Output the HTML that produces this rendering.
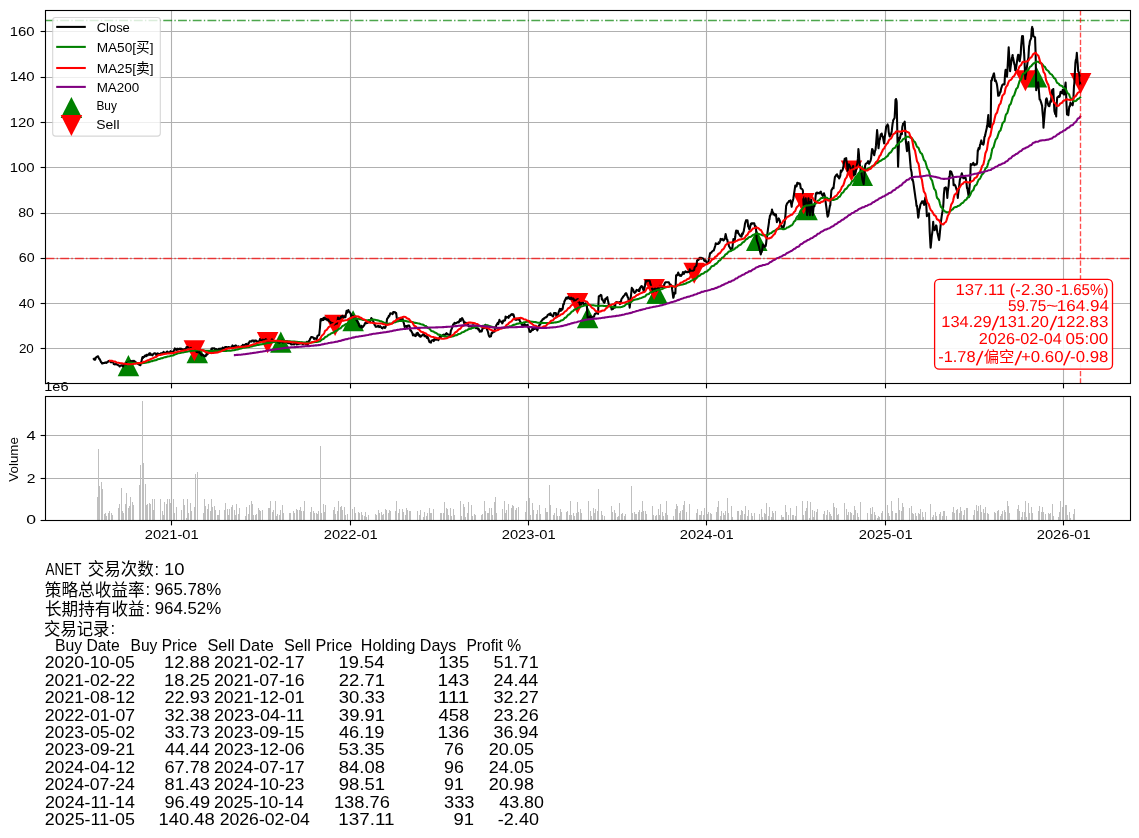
<!DOCTYPE html>
<html lang="zh"><head><meta charset="utf-8"><title>ANET MA strategy</title>
<style>html,body{margin:0;padding:0;background:#fff}svg{display:block}</style></head>
<body>
<svg width="1139" height="838" viewBox="0 0 1139 838" font-family='"Liberation Sans", "Noto Sans CJK SC", sans-serif'>
<rect width="1139" height="838" fill="#fff"/>
<g id="main">
<line x1="171.50" x2="171.50" y1="10.5" y2="383.5" stroke="#b0b0b0" stroke-width="1.11"/>
<line x1="350.50" x2="350.50" y1="10.5" y2="383.5" stroke="#b0b0b0" stroke-width="1.11"/>
<line x1="528.50" x2="528.50" y1="10.5" y2="383.5" stroke="#b0b0b0" stroke-width="1.11"/>
<line x1="706.50" x2="706.50" y1="10.5" y2="383.5" stroke="#b0b0b0" stroke-width="1.11"/>
<line x1="885.50" x2="885.50" y1="10.5" y2="383.5" stroke="#b0b0b0" stroke-width="1.11"/>
<line x1="1063.50" x2="1063.50" y1="10.5" y2="383.5" stroke="#b0b0b0" stroke-width="1.11"/>
<line x1="45.5" x2="1130.5" y1="348.50" y2="348.50" stroke="#b0b0b0" stroke-width="1.11"/>
<line x1="45.5" x2="1130.5" y1="303.50" y2="303.50" stroke="#b0b0b0" stroke-width="1.11"/>
<line x1="45.5" x2="1130.5" y1="258.50" y2="258.50" stroke="#b0b0b0" stroke-width="1.11"/>
<line x1="45.5" x2="1130.5" y1="213.50" y2="213.50" stroke="#b0b0b0" stroke-width="1.11"/>
<line x1="45.5" x2="1130.5" y1="167.50" y2="167.50" stroke="#b0b0b0" stroke-width="1.11"/>
<line x1="45.5" x2="1130.5" y1="122.50" y2="122.50" stroke="#b0b0b0" stroke-width="1.11"/>
<line x1="45.5" x2="1130.5" y1="77.50" y2="77.50" stroke="#b0b0b0" stroke-width="1.11"/>
<line x1="45.5" x2="1130.5" y1="31.50" y2="31.50" stroke="#b0b0b0" stroke-width="1.11"/>
<clipPath id="cm"><rect x="45.5" y="10.5" width="1085.0" height="373.0"/></clipPath>
<g clip-path="url(#cm)">
<polygon points="128.4,355.1 117.7,376.2 139.2,376.2" fill="#008000"/>
<polygon points="197.3,342.2 186.5,363.3 208.0,363.3" fill="#008000"/>
<polygon points="280.8,331.6 270.1,352.7 291.6,352.7" fill="#008000"/>
<polygon points="353.1,310.2 342.4,331.3 363.9,331.3" fill="#008000"/>
<polygon points="587.7,307.1 576.9,328.2 598.4,328.2" fill="#008000"/>
<polygon points="657.0,282.9 646.3,304.0 667.8,304.0" fill="#008000"/>
<polygon points="756.7,230.0 746.0,251.1 767.5,251.1" fill="#008000"/>
<polygon points="807.0,199.1 796.3,220.2 817.8,220.2" fill="#008000"/>
<polygon points="862.2,165.0 851.5,186.1 873.0,186.1" fill="#008000"/>
<polygon points="1036.4,66.4 1025.7,87.5 1047.2,87.5" fill="#008000"/>
<polygon points="194.4,361.3 183.6,340.2 205.1,340.2" fill="#ff0000"/>
<polygon points="267.6,353.2 256.9,332.1 278.4,332.1" fill="#ff0000"/>
<polygon points="335.1,335.9 324.3,314.8 345.8,314.8" fill="#ff0000"/>
<polygon points="577.4,314.2 566.7,293.1 588.2,293.1" fill="#ff0000"/>
<polygon points="654.1,300.0 643.4,278.9 664.9,278.9" fill="#ff0000"/>
<polygon points="694.2,283.8 683.4,262.7 704.9,262.7" fill="#ff0000"/>
<polygon points="803.6,214.2 792.9,193.1 814.4,193.1" fill="#ff0000"/>
<polygon points="851.5,181.5 840.7,160.4 862.2,160.4" fill="#ff0000"/>
<polygon points="1025.4,91.3 1014.7,70.2 1036.2,70.2" fill="#ff0000"/>
<polygon points="1080.6,94.1 1069.9,73.0 1091.4,73.0" fill="#ff0000"/>
<polyline points="93.8,359.0 94.2,358.7 94.7,359.8 95.2,359.8 95.7,358.0 96.0,357.5 96.2,357.4 97.7,356.2 98.0,356.3 98.1,356.6 98.6,357.5 99.1,358.8 99.5,359.0 99.6,358.9 101.1,362.2 101.6,362.4 102.1,363.5 102.5,363.5 102.5,363.5 103.0,363.1 104.5,363.0 105.0,362.7 105.0,362.5 105.5,362.7 106.0,362.3 106.4,362.9 107.9,361.7 108.0,361.8 108.4,361.0 108.9,361.4 109.4,361.1 109.9,361.0 111.0,362.5 111.3,361.7 111.8,361.7 112.3,361.7 112.8,361.7 113.3,362.7 113.7,363.9 115.2,364.4 115.7,364.2 116.2,363.7 116.7,364.6 118.0,365.0 118.2,365.2 118.7,365.2 119.2,365.8 119.6,366.5 120.1,365.9 121.6,365.3 122.0,365.7 122.1,365.7 122.6,365.8 123.1,366.5 123.5,364.6 125.0,363.8 125.5,363.7 126.0,364.1 126.0,364.5 126.5,363.1 127.0,363.6 128.4,361.8 128.9,363.2 129.4,363.3 129.9,362.9 130.4,361.6 130.6,361.0 131.9,362.3 132.3,360.9 132.8,361.6 133.0,361.5 133.3,362.0 133.8,360.7 135.3,361.9 135.8,362.2 136.0,362.5 136.3,362.9 136.7,362.8 137.2,363.2 138.7,364.4 139.2,363.7 139.7,365.0 140.2,365.1 140.4,365.2 140.6,364.5 141.5,361.0 142.1,358.4 142.5,357.0 142.6,357.1 143.1,357.8 143.6,356.8 144.1,357.0 145.0,355.5 145.5,356.3 146.0,356.3 146.5,354.8 147.0,355.6 147.5,355.5 148.8,354.0 149.0,354.1 149.4,353.3 149.9,355.0 150.4,353.4 150.9,354.4 152.4,355.3 152.9,354.3 153.0,354.5 153.4,354.0 154.3,353.2 155.8,353.5 156.3,355.3 156.8,355.3 157.3,353.8 157.7,353.3 158.7,354.0 159.2,354.1 159.7,354.8 160.2,354.8 160.7,353.4 161.2,353.6 162.0,353.0 162.6,353.1 163.1,352.7 163.6,351.9 164.1,352.7 164.3,352.7 164.6,352.8 166.1,352.6 166.5,352.3 167.0,351.5 167.5,351.5 168.0,352.3 169.5,352.7 170.0,352.2 170.5,351.2 170.9,352.4 171.3,352.0 172.9,351.7 173.4,352.8 173.9,350.4 174.0,350.0 174.4,350.1 174.9,348.4 176.3,349.8 176.8,350.0 177.0,348.9 177.3,349.3 177.8,348.7 178.3,349.5 180.2,348.5 180.7,348.9 181.0,349.2 181.2,348.9 181.7,348.9 183.2,350.0 183.6,349.4 184.1,350.0 184.6,349.0 185.1,349.1 186.0,348.5 186.6,347.0 187.1,347.0 187.6,347.7 188.0,347.2 188.5,348.2 190.0,348.6 190.5,349.3 191.0,348.1 191.0,347.8 191.5,349.7 192.0,349.4 193.9,349.4 194.0,349.5 194.4,349.3 194.9,349.3 195.4,349.1 196.6,352.0 196.8,351.5 197.3,351.4 197.8,352.3 198.3,352.3 198.8,351.2 200.0,353.5 200.3,353.1 200.7,353.4 201.2,355.0 201.7,355.5 202.2,354.6 203.6,355.5 203.7,355.3 204.2,356.3 204.7,356.3 205.1,356.3 205.6,356.3 206.4,354.1 207.1,354.6 207.6,354.0 208.1,353.5 208.6,352.8 209.0,351.5 209.1,351.6 210.5,351.2 211.0,350.6 211.5,348.6 212.0,349.1 212.0,349.2 212.5,348.2 213.9,348.5 214.4,348.3 214.9,349.3 215.4,350.0 216.0,349.0 217.4,349.8 217.8,349.8 218.3,349.5 218.8,348.8 219.3,348.7 220.5,348.9 220.8,348.5 221.3,348.8 221.8,348.7 222.2,349.3 222.7,347.5 224.2,348.7 224.7,347.6 225.2,347.0 225.7,347.3 226.2,347.0 227.5,347.8 227.6,347.8 228.1,347.1 228.6,347.0 229.1,347.0 229.6,348.2 230.0,347.9 231.0,348.0 231.5,346.5 232.0,346.9 232.5,345.4 233.0,348.1 234.5,345.8 234.9,346.8 235.4,347.3 235.9,345.4 236.4,346.2 237.9,347.1 238.4,346.4 238.4,346.2 238.9,346.7 239.3,347.0 239.8,346.9 241.3,346.5 241.8,345.9 242.3,346.3 242.8,344.8 243.3,345.8 245.2,344.7 245.5,344.8 245.7,344.2 246.2,343.9 246.7,345.5 248.1,344.6 248.6,342.7 249.1,342.8 249.6,341.4 249.7,341.3 250.1,341.3 251.6,341.6 252.0,340.5 252.5,340.5 253.0,340.5 253.5,340.5 254.0,341.8 255.0,340.5 255.5,340.5 256.0,340.5 256.4,340.9 256.9,342.6 258.0,341.3 258.4,341.7 258.9,342.1 259.4,341.6 259.9,339.1 260.4,339.9 262.3,340.3 262.8,339.7 263.3,340.1 263.7,339.9 263.8,340.0 265.2,340.0 265.7,339.1 266.2,339.6 266.7,340.2 267.2,340.9 267.5,341.5 268.7,341.5 269.1,342.3 269.6,341.3 270.1,341.5 270.6,341.7 272.0,339.4 272.1,339.7 272.6,341.6 273.1,340.5 273.5,341.1 274.0,341.8 275.5,341.8 276.0,341.4 276.5,341.7 277.0,341.3 277.0,341.0 277.5,342.2 278.9,341.5 279.4,342.8 279.9,341.1 280.4,341.9 280.9,341.8 282.3,340.6 282.8,342.6 283.3,342.1 283.4,342.0 283.8,341.5 284.3,342.3 285.8,342.0 286.2,341.2 286.7,341.2 287.2,341.8 287.7,342.9 289.2,343.2 289.7,343.2 290.2,343.3 290.4,343.1 290.6,343.2 291.1,344.5 293.1,344.2 293.6,344.2 294.1,344.5 294.6,342.9 296.0,342.5 296.5,344.5 297.0,344.3 297.4,343.7 297.5,343.7 298.0,344.1 299.4,343.3 299.9,343.7 300.4,342.9 300.9,343.5 301.0,343.5 301.4,342.7 302.9,344.4 303.3,343.7 303.8,342.7 304.3,342.9 304.8,343.2 305.9,344.5 306.3,343.7 306.8,341.8 307.3,342.3 307.7,345.3 308.2,342.0 309.7,340.1 310.2,338.7 310.7,338.0 310.8,337.8 311.2,337.0 311.7,337.0 313.1,337.5 313.6,337.9 314.1,339.0 314.3,338.5 314.6,338.3 315.1,338.2 316.5,339.3 317.0,337.6 317.5,335.7 318.0,335.6 318.5,335.3 319.2,335.0 320.0,327.5 320.4,321.4 320.6,319.5 320.9,319.0 321.4,319.1 321.9,320.3 322.7,318.5 323.4,320.0 323.9,317.7 324.4,317.9 324.8,317.7 325.3,319.1 325.5,319.2 326.8,319.1 327.3,320.3 327.8,320.3 328.3,319.8 328.3,319.5 328.8,321.0 330.2,321.9 330.7,322.3 331.2,323.8 332.2,323.7 332.5,323.0 333.6,323.7 334.1,324.5 334.6,324.5 335.1,324.0 335.6,322.9 336.8,323.7 337.1,322.8 337.5,321.2 338.0,317.6 338.5,319.8 339.0,320.1 340.5,317.4 341.0,316.9 341.0,316.7 341.5,317.4 341.9,317.3 342.4,315.7 342.5,316.0 343.9,317.1 344.0,317.5 344.4,316.4 344.9,317.1 345.4,317.2 346.6,310.8 347.3,312.6 347.8,311.8 348.3,310.0 348.8,311.0 349.4,311.8 350.7,313.8 351.2,316.0 351.7,316.2 352.2,316.7 352.2,316.8 352.7,315.9 354.2,317.7 354.6,317.6 355.1,318.7 355.6,319.5 356.1,319.4 356.4,319.5 358.1,323.0 358.6,323.7 359.0,325.4 359.5,326.4 360.6,327.2 361.0,326.9 361.5,325.8 362.0,327.7 362.5,326.4 363.0,326.8 364.4,324.9 364.8,323.7 364.9,323.7 365.4,322.6 365.9,323.0 366.4,323.2 367.8,322.8 368.0,322.5 368.3,321.6 368.8,320.4 369.3,320.4 369.8,322.2 371.3,318.0 371.7,318.8 371.9,318.8 372.2,319.0 372.7,320.6 373.2,321.2 374.7,325.1 375.2,325.3 375.7,326.8 376.1,326.8 376.6,326.8 378.0,326.0 378.1,326.2 378.6,326.1 379.1,327.1 379.6,326.8 380.1,326.1 381.5,327.6 381.7,327.9 382.0,327.5 382.5,328.3 383.0,327.8 383.5,327.0 384.5,327.2 384.9,327.8 385.4,327.5 385.8,326.0 385.9,325.8 386.4,324.7 386.9,320.0 387.0,319.2 388.4,317.1 388.8,315.9 389.3,316.2 389.8,314.7 389.8,314.8 390.3,313.4 391.8,313.5 392.3,313.4 392.5,314.2 392.8,313.7 393.2,312.0 393.7,312.0 395.2,312.3 395.5,312.8 395.7,313.3 396.2,313.1 396.7,317.4 396.9,318.5 397.2,319.5 398.6,318.3 399.1,319.8 399.6,319.1 400.0,319.0 400.1,319.0 402.0,319.6 402.5,318.3 403.0,320.6 403.2,320.6 403.5,322.4 404.0,323.7 404.6,326.9 405.5,326.5 405.9,326.1 406.4,326.1 406.9,327.2 407.0,327.2 407.4,325.8 408.9,325.4 409.4,326.1 409.5,326.2 409.9,327.6 410.3,330.4 410.8,330.2 412.3,333.0 412.8,334.8 413.0,335.3 413.3,335.0 413.8,334.3 414.3,335.5 415.7,336.1 416.2,334.2 416.5,333.2 416.7,333.6 417.2,334.9 417.7,332.8 419.1,335.6 419.3,336.0 419.6,334.9 420.1,336.8 420.6,336.8 421.1,336.2 423.0,334.4 423.5,333.9 423.5,333.5 424.0,333.8 424.5,336.2 426.0,335.9 426.5,337.1 427.0,337.9 427.4,336.5 427.8,337.4 427.9,337.7 429.4,341.9 429.9,342.3 430.4,342.1 430.6,342.3 430.9,342.7 431.4,340.8 433.3,340.0 433.8,341.1 434.3,339.1 434.8,339.6 434.8,339.5 436.2,339.7 436.7,338.7 437.2,338.7 437.7,338.7 438.2,340.1 438.3,340.2 440.1,336.3 440.6,337.6 441.1,336.1 441.6,336.2 441.8,336.0 443.1,334.9 443.6,334.6 444.1,336.1 444.5,335.7 445.0,334.8 446.5,333.1 447.0,334.4 447.4,333.9 447.5,334.1 448.0,334.4 448.5,334.8 449.9,334.7 450.2,335.3 450.4,333.8 450.9,330.3 451.4,329.7 451.6,329.0 451.9,328.4 453.3,324.2 453.8,324.3 454.3,323.1 454.4,322.7 454.8,323.2 455.3,323.5 456.8,322.8 457.2,322.3 457.7,322.3 458.0,322.0 458.2,321.9 458.7,322.5 460.2,319.2 460.7,320.9 461.2,319.1 461.5,318.9 461.6,319.0 462.1,318.1 463.6,320.9 464.1,323.1 464.6,323.5 465.0,322.7 465.1,323.1 465.6,322.6 467.0,323.4 467.5,324.0 468.0,324.2 468.5,326.2 468.5,326.2 469.0,326.5 470.9,326.3 471.4,326.7 471.9,325.9 472.0,326.0 472.4,325.2 473.9,325.2 474.3,326.2 474.8,326.9 475.3,327.1 475.5,326.9 475.8,328.1 477.3,328.3 477.8,328.5 478.3,329.7 478.7,328.9 479.2,330.0 479.7,331.8 480.7,330.9 481.2,331.5 481.7,331.5 482.2,329.5 482.5,328.5 482.7,328.4 484.1,327.9 484.6,326.2 485.1,325.5 485.4,324.8 485.6,325.9 486.1,327.3 487.5,330.5 488.0,332.0 488.5,334.2 489.0,335.9 489.5,336.5 489.6,336.7 491.0,336.3 491.4,333.6 491.9,332.7 492.4,333.1 492.9,331.9 494.4,331.5 494.5,331.8 494.9,329.3 495.4,327.2 495.8,326.9 496.3,325.3 497.8,322.9 498.3,324.1 498.8,322.1 499.3,320.6 499.4,319.9 499.8,321.2 501.2,321.6 501.7,322.3 502.2,323.2 502.2,323.4 502.7,322.7 503.2,320.6 504.6,320.6 505.1,320.2 505.6,316.5 506.1,317.5 506.4,317.1 506.6,317.7 508.1,316.8 508.6,317.9 509.0,315.7 509.5,316.5 510.0,315.8 511.5,314.2 512.0,314.7 512.5,314.2 512.7,315.0 512.9,314.2 513.4,314.4 514.8,319.2 514.9,319.5 515.4,319.3 515.9,320.0 516.4,319.7 516.9,318.9 518.3,319.4 518.8,319.7 519.1,318.5 519.3,318.9 519.8,320.6 520.3,321.9 521.7,324.1 521.9,324.8 522.2,325.4 522.7,325.6 523.2,324.9 523.7,325.6 524.5,324.0 525.7,325.6 526.1,325.0 526.6,325.6 527.1,325.6 527.5,324.8 529.1,329.5 529.6,331.8 530.0,331.7 530.3,331.1 530.5,331.9 532.0,330.0 532.5,328.2 533.0,330.0 533.5,328.6 534.0,329.0 534.5,329.0 535.9,328.3 536.4,329.0 536.9,328.8 537.3,330.4 537.4,330.3 538.8,325.9 539.3,325.1 539.8,324.4 539.8,324.3 540.3,324.5 540.8,321.8 542.3,319.8 542.8,319.1 543.2,318.9 543.3,318.8 543.7,319.1 544.2,318.1 545.7,317.6 546.2,316.8 546.7,317.0 546.9,316.7 547.1,316.5 547.6,315.2 549.1,314.1 549.6,314.2 550.1,315.0 550.4,313.2 550.6,313.6 551.1,314.8 553.0,316.5 553.2,316.0 553.5,315.2 554.0,313.1 554.5,313.1 555.9,313.1 556.4,316.6 556.9,316.0 557.4,316.5 557.9,314.3 558.1,313.9 559.4,310.2 559.9,308.9 560.3,310.6 560.8,310.8 561.3,308.9 562.3,309.7 562.8,308.1 563.3,304.1 563.8,304.3 564.2,302.4 564.4,301.3 564.7,301.0 566.2,297.7 566.7,298.7 567.2,297.6 567.2,297.8 567.7,298.3 568.2,297.0 569.6,298.8 570.1,298.9 570.6,298.4 571.1,297.6 571.6,298.7 572.1,299.2 573.0,298.4 573.5,298.8 574.0,299.6 574.5,301.6 575.0,302.0 576.5,299.6 577.0,302.1 577.4,300.9 577.9,299.1 578.4,300.1 578.5,299.9 579.9,304.7 580.4,303.9 580.9,303.1 581.3,304.1 581.3,304.1 581.8,303.1 583.3,302.8 583.8,304.9 584.3,304.9 584.8,304.4 585.3,303.8 585.5,303.4 586.7,306.0 586.9,306.2 587.2,311.8 587.6,317.4 587.7,317.6 588.2,317.6 588.7,317.3 590.1,317.5 590.4,316.0 590.6,316.9 591.1,317.1 591.6,317.5 592.1,317.5 593.6,316.4 593.9,316.7 594.1,316.6 594.5,314.9 595.0,313.8 595.5,313.9 596.0,313.2 597.0,313.3 597.5,312.6 598.0,313.6 598.1,313.9 598.4,304.3 598.8,296.4 598.9,296.5 600.9,294.9 600.9,295.0 601.4,295.4 601.9,299.5 602.4,299.1 603.7,302.0 603.8,302.3 604.3,302.8 604.8,301.9 605.3,298.8 605.8,299.2 607.2,297.3 607.3,297.1 607.7,299.9 608.2,301.5 608.7,304.3 609.2,305.0 609.4,304.8 611.2,307.2 611.6,309.4 612.1,309.3 612.6,308.7 612.9,309.0 614.1,306.2 614.6,307.8 615.1,307.1 615.5,302.8 616.0,302.5 616.4,302.0 617.5,302.3 618.5,302.8 619.0,302.7 619.5,302.1 619.9,304.1 620.9,301.6 621.4,299.4 621.9,298.4 622.4,297.8 622.7,297.8 622.9,297.0 624.3,295.3 624.8,295.0 625.3,293.6 625.5,293.5 625.8,293.2 626.3,293.3 627.8,297.4 628.3,297.8 628.3,297.8 628.7,301.3 629.2,304.2 629.7,307.6 629.7,307.4 631.2,293.7 631.7,288.6 631.8,287.9 632.2,289.1 632.6,289.0 633.1,289.5 633.9,292.1 634.6,292.9 635.1,292.6 635.6,292.1 636.1,290.9 636.6,289.9 638.0,290.5 638.2,290.7 638.5,290.9 639.0,289.3 639.5,290.9 640.0,288.2 641.4,286.1 641.9,286.9 642.4,286.5 642.4,286.6 642.9,289.0 643.4,289.7 643.8,291.4 644.9,286.0 645.4,282.6 645.8,280.8 646.3,281.0 646.6,281.6 646.8,280.8 648.8,280.8 649.3,280.8 649.7,280.8 650.1,282.3 650.2,283.1 651.7,287.3 652.2,289.0 652.2,289.3 652.7,289.9 653.2,291.5 653.7,289.3 655.1,288.5 655.6,288.5 656.1,290.6 656.4,290.7 656.6,290.4 657.1,288.8 658.5,287.8 659.0,289.3 659.5,286.4 660.0,285.9 660.5,286.2 660.6,286.5 662.0,286.9 662.5,287.3 662.9,287.3 663.4,285.7 663.9,285.5 664.9,283.0 665.4,282.2 665.9,282.3 666.4,282.2 666.9,282.2 667.3,282.2 668.8,282.2 669.1,283.0 669.3,283.2 669.8,284.8 670.3,285.5 670.8,284.7 671.9,287.2 672.2,289.9 672.7,293.4 673.2,297.3 673.3,297.8 673.7,296.8 674.2,292.7 675.4,293.5 675.6,286.0 676.1,275.3 676.1,275.5 676.6,275.8 677.1,274.5 677.6,274.8 678.2,272.5 679.1,275.1 679.6,275.7 680.0,274.9 680.5,275.5 681.0,276.0 681.0,276.0 682.5,273.8 683.0,272.1 683.5,272.7 684.0,273.8 684.4,272.8 684.5,272.5 685.6,271.3 685.9,271.9 686.4,272.1 686.9,272.1 687.9,272.1 689.3,271.8 689.8,269.2 689.8,269.9 690.3,270.7 690.8,270.7 691.3,270.7 692.7,270.7 693.2,270.7 693.7,270.7 694.0,269.9 694.2,269.8 694.7,267.2 696.2,266.0 696.7,264.0 697.1,260.4 697.6,260.1 698.1,259.5 698.3,260.1 699.6,257.9 700.1,257.9 700.6,257.9 701.1,258.8 701.1,258.7 701.5,257.9 703.5,258.8 704.0,260.1 704.5,260.9 705.0,260.9 705.3,260.1 706.9,263.0 707.4,262.8 707.9,262.2 708.1,262.2 708.4,261.9 709.8,254.6 710.2,253.0 710.3,253.1 710.8,252.9 711.3,252.7 711.8,251.7 713.7,250.2 713.8,250.5 714.2,249.1 714.7,247.6 715.2,246.0 715.8,243.2 716.7,244.0 717.2,244.0 717.7,244.0 718.2,244.0 718.6,242.4 719.3,243.2 720.1,241.3 720.6,238.9 721.1,239.8 721.4,239.7 721.6,239.1 722.1,238.9 723.5,240.5 723.5,240.2 724.0,240.0 724.5,239.1 725.0,237.3 725.5,235.1 725.6,234.1 726.9,239.8 727.4,239.8 727.8,243.2 727.9,242.9 728.4,242.5 728.9,245.9 730.9,249.6 731.3,248.8 731.3,248.6 731.8,249.6 732.3,248.5 733.4,239.0 733.8,239.8 734.3,239.1 734.8,239.8 735.3,236.5 735.7,232.7 736.2,230.6 737.2,232.6 737.7,230.8 738.2,232.9 738.7,233.6 739.0,234.1 739.2,234.4 740.6,236.5 741.0,236.5 741.1,236.0 741.6,236.7 742.1,233.5 742.6,234.3 743.9,230.6 744.0,229.4 744.5,227.1 745.0,223.7 745.5,222.2 746.0,220.5 746.0,220.3 747.5,220.4 748.0,225.0 748.1,226.4 748.4,226.0 748.9,228.1 749.5,229.5 750.9,223.6 751.4,223.4 751.6,224.2 751.9,223.4 752.4,223.4 752.8,223.4 754.3,223.4 754.8,225.8 755.3,227.2 755.8,226.8 755.9,226.4 756.3,232.7 756.6,239.0 757.7,242.7 758.2,244.1 758.7,246.0 758.7,245.7 759.2,248.0 759.7,250.1 760.8,254.4 761.1,252.5 761.6,252.3 762.1,250.4 762.6,247.1 762.9,244.6 763.1,245.8 764.6,246.8 765.1,245.4 765.5,245.7 765.7,246.0 766.0,244.3 766.5,239.8 767.1,236.2 768.0,228.9 768.5,225.7 769.0,222.2 769.2,219.3 769.5,219.5 769.9,215.8 769.9,216.2 771.4,212.9 771.9,210.2 772.0,209.5 772.4,211.7 772.9,212.2 773.4,214.5 774.1,213.7 774.8,215.3 775.3,214.3 775.8,215.1 776.0,214.5 776.3,217.3 776.8,221.4 776.9,222.1 778.7,218.4 778.8,218.5 779.2,219.5 779.7,220.2 780.2,223.2 780.4,224.9 781.7,226.5 781.8,227.8 782.2,227.8 782.6,226.8 783.1,226.3 783.6,227.1 784.6,223.5 785.1,218.6 785.6,213.4 786.1,206.2 786.1,206.0 786.6,204.9 787.0,203.4 788.5,202.0 788.9,201.1 789.0,201.4 790.0,201.2 790.5,200.3 791.7,206.7 791.9,204.0 792.4,201.9 792.9,200.5 793.4,198.2 793.8,195.5 793.9,194.8 795.3,185.5 795.8,185.5 796.3,185.8 796.6,186.3 797.3,182.7 798.7,183.5 798.8,183.5 799.3,184.1 799.7,183.4 800.2,184.3 800.7,188.0 800.8,188.4 802.2,189.2 802.7,190.1 802.9,190.5 803.2,197.7 803.6,205.3 803.7,205.4 804.1,204.4 805.6,198.4 805.7,198.3 806.1,202.3 806.6,209.1 807.1,214.9 807.1,215.1 807.6,209.8 808.5,198.3 809.0,205.4 809.5,210.8 809.9,215.1 810.0,213.5 810.5,201.7 811.0,203.2 811.3,199.7 812.4,212.9 812.7,215.1 812.9,214.1 813.4,208.7 813.9,205.1 814.4,206.2 814.8,203.9 815.9,193.9 816.4,192.8 816.8,193.3 817.0,192.6 817.3,192.6 817.8,193.4 819.3,192.7 819.8,193.4 820.3,192.2 820.5,191.9 820.8,191.5 821.2,192.6 822.5,195.5 822.7,195.9 823.2,195.5 823.7,195.0 824.0,193.3 824.2,194.4 824.7,195.3 826.1,205.3 826.6,209.0 827.1,213.6 827.6,216.6 828.1,215.5 828.2,215.8 829.5,208.1 830.0,205.5 830.3,205.3 830.5,201.6 831.0,195.5 831.4,190.2 831.5,190.3 833.0,187.5 833.5,188.2 833.5,188.3 833.9,184.5 834.4,180.8 834.9,177.1 834.9,177.1 836.4,174.7 836.9,174.6 837.0,174.3 837.4,175.4 837.9,176.8 838.3,176.2 839.1,178.5 839.8,177.1 840.3,175.6 840.8,170.6 841.3,172.0 841.8,170.9 842.6,170.1 843.2,167.8 843.7,164.4 844.2,161.4 844.7,158.9 844.7,158.8 845.2,158.7 846.2,158.1 846.6,161.8 847.1,164.2 847.6,171.5 847.6,171.6 848.1,167.1 848.6,165.2 849.0,164.4 850.1,166.8 850.6,168.3 851.0,168.8 851.1,168.7 851.5,169.5 852.0,169.5 853.2,165.9 853.5,168.2 854.0,175.1 854.5,172.8 855.0,173.7 855.3,174.3 855.4,173.6 856.9,164.9 857.4,163.0 857.4,163.0 857.9,158.4 858.4,149.4 858.4,149.0 858.9,153.9 859.5,163.0 860.3,167.6 860.8,170.6 861.3,173.6 861.6,172.9 861.8,175.3 862.3,179.2 863.7,184.1 863.7,183.6 864.2,177.9 864.7,170.9 865.1,165.9 865.2,165.3 865.7,163.8 867.2,162.9 867.2,163.0 867.7,162.0 868.1,161.2 869.1,163.8 870.0,161.6 870.6,160.6 871.1,158.3 871.6,152.8 872.1,149.0 872.1,149.0 872.5,149.3 874.0,154.6 874.2,155.3 874.5,153.6 875.0,151.0 875.5,149.9 875.6,149.0 876.0,145.2 877.1,130.0 877.4,133.6 877.9,139.2 878.4,146.7 878.5,148.3 878.9,145.2 879.4,140.2 879.9,139.2 880.8,134.3 881.3,134.9 881.7,133.5 882.3,136.3 882.8,136.4 884.1,143.4 884.3,141.5 884.8,137.2 885.7,130.6 886.2,126.5 886.2,126.8 887.6,124.4 887.7,125.0 888.2,125.6 888.7,132.1 889.6,136.3 889.7,136.4 891.1,134.2 891.6,131.8 891.8,130.7 892.1,128.0 892.6,123.6 893.1,121.2 893.2,120.2 894.6,118.0 895.0,111.0 895.5,99.8 895.5,100.0 896.0,99.0 896.5,100.7 896.7,102.6 897.4,136.4 897.9,159.8 898.1,166.6 898.4,157.9 898.9,143.5 899.1,137.8 899.4,138.6 899.9,138.6 900.9,133.5 901.4,134.3 901.9,134.3 902.3,126.9 902.8,125.0 903.0,123.7 903.3,124.5 904.7,121.6 904.8,123.1 905.3,132.6 905.8,140.0 905.9,142.0 906.3,144.9 906.7,148.9 907.0,151.1 908.4,142.0 908.7,145.0 909.2,150.8 909.4,153.2 909.7,155.9 910.2,162.2 910.8,168.7 911.6,172.4 912.1,178.9 912.2,179.9 912.6,179.1 912.9,181.1 913.1,181.2 913.6,184.4 914.3,189.5 915.0,194.3 915.5,198.1 915.7,199.3 916.0,200.9 916.5,205.9 917.0,205.8 917.1,206.4 918.2,217.6 918.5,216.6 919.0,211.4 919.4,209.1 919.9,207.8 919.9,207.6 920.4,204.6 921.9,201.6 922.0,201.4 922.4,202.6 922.9,201.3 923.4,202.7 923.8,204.0 924.1,204.9 925.3,197.6 925.5,197.9 925.8,200.6 926.3,205.5 926.8,214.7 926.9,216.2 927.3,215.1 928.7,214.8 929.0,213.4 929.2,218.2 929.7,231.8 930.2,240.8 930.6,247.8 930.7,247.3 931.8,235.9 932.1,233.8 932.6,230.1 933.1,223.1 933.2,221.8 933.6,227.6 934.1,228.9 934.6,230.2 935.6,226.8 936.1,225.4 936.1,226.0 936.5,225.9 937.0,230.3 937.5,233.0 939.0,239.7 939.1,240.1 939.5,236.7 940.0,231.3 940.5,226.5 940.7,224.6 940.9,222.1 941.7,216.2 942.4,211.9 942.9,208.0 943.1,207.8 943.4,203.6 943.9,194.2 944.4,189.6 944.5,188.1 945.8,187.3 946.3,188.5 946.6,189.5 946.8,191.0 947.3,197.3 947.3,197.9 947.8,191.7 948.7,185.3 949.2,176.8 949.7,176.4 950.1,171.2 950.2,171.6 950.7,171.4 951.2,171.6 952.2,174.7 952.7,176.1 953.2,177.7 953.6,185.3 953.6,184.8 954.1,184.5 954.6,184.5 955.5,186.0 956.6,189.7 957.1,191.0 957.6,195.9 957.8,197.9 958.0,195.6 959.5,183.5 959.9,179.7 960.0,179.6 960.5,177.1 961.0,177.3 961.5,174.3 961.8,173.3 962.9,177.1 963.4,178.3 963.5,178.3 963.9,178.3 964.4,176.7 964.9,177.6 965.5,177.5 966.3,181.5 966.8,186.2 967.0,188.1 967.3,187.9 968.3,194.3 968.8,197.2 969.8,183.7 970.2,178.3 970.3,176.0 970.7,164.2 970.7,164.0 971.2,165.0 971.7,165.0 973.2,163.2 973.3,162.8 973.7,163.8 974.2,165.1 974.7,165.1 975.0,164.3 976.6,164.4 977.1,162.7 977.1,162.9 977.6,154.3 977.8,150.2 978.1,150.7 978.6,148.0 979.5,148.8 980.0,144.9 980.5,143.6 981.0,141.6 981.3,140.4 981.5,141.1 982.0,143.8 983.4,144.6 983.4,144.6 983.9,142.6 984.4,137.0 984.9,136.5 985.4,134.3 985.5,133.4 986.9,127.4 986.9,126.4 987.4,124.9 987.8,119.9 988.3,115.1 988.3,116.2 988.8,125.0 989.0,126.4 990.3,127.2 990.7,125.0 990.8,118.5 991.2,80.5 991.3,80.4 991.8,80.6 992.2,77.6 992.6,77.5 993.7,73.7 994.0,73.3 994.2,74.7 994.7,78.6 994.9,81.0 995.2,80.2 995.7,80.2 996.8,83.8 997.1,85.6 997.6,89.6 998.1,94.8 998.2,95.8 998.6,95.0 999.1,95.5 1000.3,91.6 1000.6,91.9 1001.0,89.0 1001.5,87.7 1002.0,85.8 1002.4,85.2 1002.5,84.7 1004.5,83.8 1004.5,84.5 1004.9,76.4 1005.4,71.0 1005.6,69.8 1005.9,72.9 1007.0,76.8 1007.4,70.9 1007.9,61.7 1008.4,52.6 1008.7,47.3 1008.9,51.0 1009.3,58.2 1010.1,71.2 1010.8,65.5 1011.2,62.8 1011.3,61.9 1011.8,58.1 1012.3,56.3 1012.6,55.0 1012.8,56.4 1014.2,63.5 1014.3,64.2 1014.7,65.0 1015.2,70.2 1015.7,69.8 1015.7,69.8 1016.2,67.0 1017.7,57.0 1018.1,54.9 1018.3,55.7 1018.6,54.9 1019.1,59.3 1019.6,60.8 1019.7,61.3 1020.7,54.3 1021.1,46.5 1021.6,41.2 1022.0,36.6 1022.1,36.1 1022.5,36.9 1023.0,36.1 1023.0,36.9 1024.2,54.3 1024.5,61.3 1025.0,72.5 1025.3,78.9 1025.5,76.7 1026.0,74.6 1026.4,70.6 1026.7,68.4 1027.7,61.3 1027.9,60.0 1028.4,57.6 1028.9,48.8 1029.1,45.9 1029.4,45.1 1029.9,41.2 1031.2,38.2 1031.3,35.4 1031.8,28.9 1032.2,26.9 1032.3,27.5 1032.8,28.9 1033.3,35.9 1033.3,36.1 1034.8,37.2 1035.1,37.5 1035.2,42.0 1035.7,55.7 1035.7,57.4 1036.2,90.2 1036.2,89.5 1036.7,87.5 1038.2,82.6 1038.2,82.4 1038.7,88.1 1039.1,93.2 1039.6,99.3 1039.6,99.2 1040.1,99.6 1041.0,102.1 1041.6,104.1 1042.1,105.9 1042.4,110.5 1042.6,112.8 1043.1,118.1 1043.5,127.8 1043.5,126.8 1044.5,115.1 1045.0,109.1 1045.5,106.4 1046.0,99.4 1046.6,98.3 1047.0,100.0 1048.3,105.3 1048.4,105.5 1048.9,106.1 1049.4,106.1 1049.9,103.6 1050.4,101.0 1050.9,101.8 1051.9,91.5 1052.3,89.8 1052.3,90.0 1052.8,90.6 1053.3,89.1 1053.3,89.5 1053.8,99.2 1054.4,110.9 1055.3,114.2 1055.8,112.7 1056.2,116.5 1056.2,115.1 1056.7,103.9 1057.2,97.6 1057.2,97.8 1058.7,96.1 1059.2,96.9 1059.3,96.2 1059.7,96.6 1060.6,91.8 1061.4,92.6 1062.1,93.4 1062.6,90.1 1062.8,89.8 1063.1,91.2 1064.1,94.6 1064.2,94.0 1065.5,83.3 1065.6,82.6 1066.0,90.8 1066.5,104.2 1067.0,114.4 1067.0,114.4 1067.5,113.6 1068.4,115.1 1069.0,108.7 1069.4,106.2 1069.9,106.4 1070.4,103.0 1070.5,102.5 1070.9,103.9 1072.6,105.3 1072.9,103.5 1073.3,100.0 1073.8,89.8 1074.0,86.0 1074.3,83.8 1075.4,62.8 1075.8,59.9 1076.3,58.9 1076.8,53.5 1076.8,52.9 1077.3,59.6 1077.7,63.8 1078.2,71.2 1079.2,73.1 1079.7,77.4 1080.1,83.2 1080.2,84.2" fill="none" stroke="#000000" stroke-width="2.08" stroke-linejoin="round" stroke-linecap="square" />
<polyline points="128.4,362.4 128.9,362.5 129.4,362.6 129.9,362.6 130.4,362.7 131.9,362.8 132.3,362.9 132.8,363.0 133.3,363.1 133.8,363.1 135.3,363.2 135.8,363.2 136.3,363.2 136.7,363.2 137.2,363.2 138.7,363.2 139.2,363.2 139.7,363.2 140.2,363.3 140.6,363.3 142.1,363.2 142.6,363.1 143.1,363.1 143.6,363.0 144.1,362.9 145.5,362.8 146.0,362.7 146.5,362.6 147.0,362.4 147.5,362.3 149.0,362.1 149.4,361.9 149.9,361.7 150.4,361.5 150.9,361.3 152.4,361.1 152.9,360.9 153.4,360.7 154.3,360.4 155.8,360.2 156.3,360.0 156.8,359.8 157.3,359.5 157.7,359.3 159.2,359.0 159.7,358.9 160.2,358.7 160.7,358.5 161.2,358.3 162.6,358.1 163.1,357.9 163.6,357.7 164.1,357.4 164.6,357.2 166.1,357.1 166.5,356.9 167.0,356.7 167.5,356.5 169.5,356.3 170.0,356.1 170.5,355.9 170.9,355.7 172.9,355.5 173.4,355.3 173.9,355.0 174.4,354.7 174.9,354.4 176.3,354.1 176.8,353.8 177.3,353.5 177.8,353.3 178.3,353.2 180.2,353.0 180.7,352.8 181.2,352.7 181.7,352.5 183.2,352.4 183.6,352.3 184.1,352.2 184.6,352.1 185.1,352.0 186.6,351.8 187.1,351.7 187.6,351.6 188.0,351.4 188.5,351.3 190.0,351.2 190.5,351.1 191.0,351.0 191.5,350.9 192.0,350.8 193.9,350.6 194.4,350.6 194.9,350.5 195.4,350.4 196.8,350.3 197.3,350.2 197.8,350.2 198.3,350.2 198.8,350.2 200.3,350.2 200.7,350.2 201.2,350.2 201.7,350.3 202.2,350.3 203.7,350.4 204.2,350.5 204.7,350.6 205.1,350.7 205.6,350.7 207.1,350.8 207.6,350.8 208.1,350.9 208.6,350.9 209.1,350.9 210.5,350.9 211.0,351.0 211.5,351.0 212.0,350.9 212.5,350.9 213.9,350.9 214.4,350.9 214.9,350.9 215.4,350.9 217.4,350.9 217.8,351.0 218.3,350.9 218.8,350.9 219.3,350.9 220.8,350.9 221.3,350.9 221.8,350.9 222.2,351.0 222.7,351.0 224.2,351.0 224.7,351.0 225.2,351.0 225.7,350.9 226.2,350.9 227.6,350.8 228.1,350.8 228.6,350.8 229.1,350.7 229.6,350.7 231.0,350.7 231.5,350.6 232.0,350.5 232.5,350.3 233.0,350.3 234.5,350.1 234.9,350.0 235.4,349.9 235.9,349.7 236.4,349.5 237.9,349.4 238.4,349.2 238.9,349.0 239.3,348.8 239.8,348.6 241.3,348.4 241.8,348.3 242.3,348.1 242.8,347.9 243.3,347.8 245.2,347.6 245.7,347.5 246.2,347.4 246.7,347.3 248.1,347.2 248.6,347.1 249.1,347.0 249.6,346.9 250.1,346.7 251.6,346.5 252.0,346.3 252.5,346.2 253.0,346.0 253.5,345.8 255.0,345.6 255.5,345.5 256.0,345.3 256.4,345.2 256.9,345.0 258.4,344.9 258.9,344.8 259.4,344.7 259.9,344.5 260.4,344.4 262.3,344.2 262.8,344.1 263.3,343.9 263.8,343.8 265.2,343.6 265.7,343.5 266.2,343.3 266.7,343.2 267.2,343.0 268.7,343.0 269.1,342.9 269.6,342.8 270.1,342.7 270.6,342.5 272.1,342.4 272.6,342.3 273.1,342.2 273.5,342.1 274.0,342.0 275.5,341.9 276.0,341.8 276.5,341.7 277.0,341.6 277.5,341.5 278.9,341.5 279.4,341.4 279.9,341.3 280.4,341.3 280.9,341.2 282.3,341.1 282.8,341.1 283.3,341.1 283.8,341.1 284.3,341.1 285.8,341.1 286.2,341.1 286.7,341.1 287.2,341.1 287.7,341.2 289.2,341.2 289.7,341.3 290.2,341.3 290.6,341.4 291.1,341.5 293.1,341.5 293.6,341.5 294.1,341.6 294.6,341.6 296.0,341.7 296.5,341.8 297.0,341.9 297.5,341.9 298.0,342.0 299.4,342.1 299.9,342.2 300.4,342.2 300.9,342.3 301.4,342.4 302.9,342.4 303.3,342.5 303.8,342.5 304.3,342.5 304.8,342.5 306.3,342.6 306.8,342.6 307.3,342.6 307.7,342.7 308.2,342.8 309.7,342.7 310.2,342.7 310.7,342.6 311.2,342.5 311.7,342.4 313.1,342.3 313.6,342.2 314.1,342.2 314.6,342.1 315.1,342.0 316.5,342.0 317.0,341.9 317.5,341.8 318.0,341.7 318.5,341.5 320.0,341.2 320.4,340.8 320.9,340.4 321.4,339.9 321.9,339.5 323.4,339.1 323.9,338.5 324.4,338.0 324.8,337.5 325.3,337.0 326.8,336.5 327.3,336.1 327.8,335.6 328.3,335.1 328.8,334.7 330.2,334.2 330.7,333.8 331.2,333.4 332.2,333.0 333.6,332.6 334.1,332.2 334.6,331.8 335.1,331.4 335.6,331.0 337.1,330.6 337.5,330.2 338.0,329.6 338.5,329.2 339.0,328.7 340.5,328.2 341.0,327.7 341.5,327.2 341.9,326.7 342.4,326.1 343.9,325.6 344.4,325.1 344.9,324.7 345.4,324.3 347.3,323.8 347.8,323.3 348.3,322.7 348.8,322.2 350.7,321.7 351.2,321.2 351.7,320.8 352.2,320.4 352.7,319.9 354.2,319.6 354.6,319.2 355.1,318.9 355.6,318.7 356.1,318.7 358.1,318.7 358.6,318.8 359.0,318.9 359.5,319.1 361.0,319.3 361.5,319.4 362.0,319.6 362.5,319.8 363.0,319.9 364.4,320.0 364.9,320.1 365.4,320.1 365.9,320.2 366.4,320.2 367.8,320.2 368.3,320.2 368.8,320.1 369.3,320.0 369.8,320.0 371.3,319.9 371.7,319.8 372.2,319.7 372.7,319.6 373.2,319.6 375.2,319.8 375.7,319.9 376.1,320.1 376.6,320.2 378.1,320.4 378.6,320.6 379.1,320.8 379.6,321.0 380.1,321.2 381.5,321.4 382.0,321.6 382.5,321.9 383.0,322.2 383.5,322.5 384.9,322.8 385.4,323.2 385.9,323.4 386.4,323.6 386.9,323.6 388.4,323.7 388.8,323.7 389.3,323.6 389.8,323.6 390.3,323.5 391.8,323.3 392.3,323.2 392.8,323.0 393.2,322.8 393.7,322.5 395.2,322.3 395.7,322.0 396.2,321.7 396.7,321.5 397.2,321.4 398.6,321.2 399.1,321.1 399.6,321.0 400.1,320.9 402.0,320.9 402.5,320.8 403.0,320.7 403.5,320.8 404.0,320.8 405.5,320.9 405.9,321.0 406.4,321.2 406.9,321.3 407.4,321.5 408.9,321.6 409.4,321.7 409.9,321.7 410.3,321.8 410.8,321.9 412.3,322.0 412.8,322.2 413.3,322.3 413.8,322.5 414.3,322.7 415.7,322.9 416.2,323.0 416.7,323.1 417.2,323.2 417.7,323.3 419.1,323.5 419.6,323.7 420.1,323.8 420.6,324.1 421.1,324.3 423.0,324.6 423.5,324.9 424.0,325.3 424.5,325.7 426.0,326.1 426.5,326.6 427.0,327.0 427.4,327.5 427.9,328.0 429.4,328.6 429.9,329.2 430.4,329.8 430.9,330.4 431.4,330.9 433.3,331.4 433.8,331.8 434.3,332.2 434.8,332.6 436.2,333.0 436.7,333.4 437.2,333.8 437.7,334.2 438.2,334.6 440.1,334.9 440.6,335.2 441.1,335.4 441.6,335.6 443.1,335.7 443.6,335.9 444.1,336.1 444.5,336.3 445.0,336.5 446.5,336.6 447.0,336.7 447.5,336.7 448.0,336.8 448.5,336.8 449.9,336.8 450.4,336.8 450.9,336.7 451.4,336.5 451.9,336.4 453.3,336.2 453.8,336.0 454.3,335.8 454.8,335.6 455.3,335.3 456.8,335.1 457.2,334.8 457.7,334.5 458.2,334.2 458.7,334.0 460.2,333.7 460.7,333.4 461.2,333.1 461.6,332.7 462.1,332.3 463.6,332.0 464.1,331.7 464.6,331.3 465.1,331.0 465.6,330.6 467.0,330.2 467.5,329.9 468.0,329.5 468.5,329.2 469.0,329.0 470.9,328.7 471.4,328.5 471.9,328.2 472.4,327.9 473.9,327.7 474.3,327.4 474.8,327.2 475.3,327.0 475.8,326.8 477.3,326.7 477.8,326.5 478.3,326.4 478.7,326.3 479.2,326.2 480.7,326.1 481.2,326.1 481.7,326.0 482.2,325.9 482.7,325.8 484.1,325.7 484.6,325.5 485.1,325.3 485.6,325.2 486.1,325.2 487.5,325.2 488.0,325.4 488.5,325.6 489.0,325.9 489.5,326.1 491.0,326.4 491.4,326.6 491.9,326.8 492.4,327.0 492.9,327.2 494.4,327.4 494.9,327.6 495.4,327.7 495.8,327.9 496.3,328.0 497.8,328.1 498.3,328.2 498.8,328.1 499.3,328.1 499.8,328.0 501.2,328.0 501.7,328.0 502.2,328.0 502.7,328.0 503.2,327.8 504.6,327.7 505.1,327.6 505.6,327.4 506.1,327.2 506.6,327.1 508.1,326.9 508.6,326.8 509.0,326.5 510.0,326.3 511.5,326.0 512.0,325.8 512.5,325.5 512.9,325.2 513.4,324.9 514.9,324.7 515.4,324.4 515.9,324.2 516.4,324.0 516.9,323.7 518.3,323.6 518.8,323.4 519.3,323.3 519.8,323.2 520.3,323.1 521.7,323.0 522.2,322.9 522.7,322.8 523.2,322.6 523.7,322.4 525.7,322.2 526.1,321.9 526.6,321.8 527.1,321.6 529.1,321.6 529.6,321.6 530.0,321.6 530.5,321.6 532.0,321.7 532.5,321.7 533.0,321.8 533.5,321.9 534.0,322.0 535.9,322.1 536.4,322.3 536.9,322.5 537.4,322.6 538.8,322.7 539.3,322.7 539.8,322.8 540.3,322.8 540.8,322.9 542.3,322.9 542.8,322.9 543.2,322.9 543.7,323.0 544.2,323.0 545.7,323.0 546.2,323.0 546.7,323.0 547.1,323.1 547.6,323.1 549.1,323.1 549.6,323.1 550.1,323.1 550.6,323.0 551.1,322.9 553.0,322.8 553.5,322.7 554.0,322.6 554.5,322.5 555.9,322.4 556.4,322.3 556.9,322.2 557.4,322.1 557.9,321.9 559.4,321.6 559.9,321.3 560.3,321.0 560.8,320.7 561.3,320.4 562.8,320.0 563.3,319.6 563.8,319.2 564.2,318.6 564.7,318.0 566.2,317.3 566.7,316.7 567.2,316.0 567.7,315.4 568.2,314.8 569.6,314.2 570.1,313.6 570.6,313.0 571.1,312.4 571.6,311.7 573.0,311.1 573.5,310.6 574.0,310.1 574.5,309.6 576.5,309.1 577.0,308.7 577.4,308.3 577.9,307.9 578.4,307.6 579.9,307.3 580.4,307.0 580.9,306.7 581.3,306.4 581.8,306.2 583.3,305.9 583.8,305.7 584.3,305.5 584.8,305.3 585.3,305.1 586.7,304.9 587.2,304.9 587.7,304.9 588.2,304.9 588.7,305.0 590.1,305.1 590.6,305.2 591.1,305.2 591.6,305.2 592.1,305.2 593.6,305.3 594.1,305.4 594.5,305.5 595.0,305.6 595.5,305.7 597.0,305.7 597.5,305.8 598.0,306.0 598.4,306.0 598.9,305.9 600.9,305.8 601.4,305.7 601.9,305.8 602.4,305.8 603.8,305.9 604.3,306.0 604.8,306.0 605.3,306.0 605.8,306.0 607.2,306.0 607.7,306.1 608.2,306.1 608.7,306.2 609.2,306.4 611.2,306.5 611.6,306.7 612.1,306.8 612.6,307.0 614.1,307.1 614.6,307.3 615.1,307.3 615.5,307.3 616.0,307.3 617.5,307.2 618.5,307.2 619.0,307.2 619.5,307.2 620.9,307.1 621.4,307.0 621.9,306.9 622.4,306.7 622.9,306.4 624.3,306.0 624.8,305.5 625.3,305.1 625.8,304.6 626.3,304.1 627.8,303.7 628.3,303.3 628.7,303.0 629.2,302.7 629.7,302.6 631.2,302.1 631.7,301.6 632.2,301.1 632.6,300.7 633.1,300.2 634.6,299.8 635.1,299.5 635.6,299.5 636.1,299.4 636.6,299.3 638.0,299.1 638.5,298.9 639.0,298.7 639.5,298.4 640.0,298.2 641.4,297.9 641.9,297.7 642.4,297.4 642.9,297.2 643.4,297.0 644.9,296.6 645.4,296.2 645.8,295.6 646.3,295.1 646.8,294.5 648.8,293.9 649.3,293.4 649.7,292.9 650.2,292.4 651.7,292.1 652.2,291.8 652.7,291.6 653.2,291.4 653.7,291.1 655.1,290.8 655.6,290.6 656.1,290.4 656.6,290.2 657.1,290.0 658.5,289.9 659.0,289.7 659.5,289.6 660.0,289.4 660.5,289.3 662.0,289.2 662.5,288.9 662.9,288.7 663.4,288.4 663.9,288.1 665.4,287.6 665.9,287.3 666.4,287.2 666.9,287.1 667.3,286.9 668.8,286.8 669.3,286.6 669.8,286.4 670.3,286.3 670.8,286.2 672.2,286.2 672.7,286.2 673.2,286.4 673.7,286.5 674.2,286.5 675.6,286.5 676.1,286.3 676.6,286.1 677.1,285.8 677.6,285.5 679.1,285.2 679.6,285.0 680.0,284.9 680.5,284.8 681.0,284.7 682.5,284.5 683.0,284.4 683.5,284.2 684.0,284.1 684.4,283.9 685.9,283.6 686.4,283.2 686.9,282.9 687.9,282.5 689.3,282.1 689.8,281.7 690.3,281.4 690.8,281.0 691.3,280.6 692.7,280.2 693.2,279.9 693.7,279.5 694.2,279.2 694.7,278.8 696.2,278.4 696.7,278.0 697.1,277.4 697.6,276.9 698.1,276.3 699.6,275.8 700.1,275.3 700.6,274.8 701.1,274.4 701.5,273.9 703.5,273.4 704.0,273.0 704.5,272.5 705.0,272.0 706.9,271.6 707.4,271.1 707.9,270.6 708.4,270.0 709.8,269.1 710.3,268.2 710.8,267.4 711.3,266.8 711.8,266.3 713.8,265.8 714.2,265.3 714.7,264.7 715.2,264.2 716.7,263.5 717.2,262.9 717.7,262.3 718.2,261.6 718.6,261.0 720.1,260.4 720.6,259.7 721.1,259.0 721.6,258.4 722.1,257.7 723.5,257.1 724.0,256.4 724.5,255.8 725.0,255.1 725.5,254.4 726.9,253.8 727.4,253.1 727.9,252.6 728.4,252.0 728.9,251.5 730.9,251.1 731.3,250.7 731.8,250.3 732.3,250.0 733.8,249.5 734.3,249.1 734.8,248.7 735.3,248.2 735.7,247.7 737.2,247.2 737.7,246.6 738.2,246.1 738.7,245.6 739.2,245.2 740.6,244.7 741.1,244.2 741.6,243.7 742.1,243.1 742.6,242.5 744.0,241.9 744.5,241.2 745.0,240.6 745.5,239.9 746.0,239.3 747.5,238.7 748.0,238.1 748.4,237.6 748.9,237.2 750.9,236.7 751.4,236.3 751.9,235.9 752.4,235.5 752.8,235.0 754.3,234.6 754.8,234.3 755.3,234.0 755.8,233.8 756.3,233.6 757.7,233.7 758.2,233.8 758.7,233.9 759.2,234.1 759.7,234.3 761.1,234.6 761.6,234.9 762.1,235.2 762.6,235.3 763.1,235.4 764.6,235.4 765.1,235.4 765.5,235.4 766.0,235.3 766.5,235.1 768.0,234.7 768.5,234.4 769.0,234.1 769.5,233.7 769.9,233.3 771.4,232.9 771.9,232.4 772.4,232.0 772.9,231.6 773.4,231.2 774.8,230.8 775.3,230.4 775.8,230.0 776.3,229.6 776.8,229.4 778.7,229.0 779.2,228.8 779.7,228.7 780.2,228.7 781.7,228.8 782.2,228.9 782.6,229.1 783.1,229.1 783.6,229.1 785.1,228.9 785.6,228.7 786.1,228.4 786.6,228.0 787.0,227.6 788.5,227.2 789.0,226.7 790.0,226.2 790.5,225.7 791.9,225.2 792.4,224.6 792.9,223.8 793.4,222.9 793.9,221.8 795.3,220.6 795.8,219.3 796.3,218.0 797.3,216.6 798.8,215.2 799.3,214.0 799.7,212.7 800.2,211.5 800.7,210.3 802.2,209.2 802.7,208.1 803.2,207.3 803.7,206.8 804.1,206.4 805.6,205.9 806.1,205.6 806.6,205.4 807.1,205.5 807.6,205.5 809.0,205.3 809.5,205.3 810.0,205.3 810.5,205.0 811.0,204.8 812.4,204.7 812.9,204.7 813.4,204.4 813.9,204.2 814.4,203.9 815.9,203.4 816.4,202.8 816.8,202.1 817.3,201.4 817.8,200.7 819.3,200.1 819.8,199.4 820.3,198.8 820.8,198.4 821.2,198.1 822.7,198.0 823.2,197.8 823.7,197.7 824.2,197.5 824.7,197.4 826.6,197.7 827.1,198.0 827.6,198.3 828.1,198.7 829.5,199.0 830.0,199.3 830.5,199.6 831.0,199.7 831.5,199.8 833.0,199.9 833.5,199.9 833.9,199.9 834.4,199.7 834.9,199.4 836.4,199.1 836.9,198.8 837.4,198.5 837.9,197.9 838.3,197.3 839.8,196.6 840.3,195.8 840.8,195.0 841.3,194.1 841.8,193.2 843.2,192.4 843.7,191.5 844.2,190.7 844.7,189.9 845.2,189.2 846.6,188.5 847.1,187.7 847.6,187.0 848.1,186.2 848.6,185.5 850.1,184.7 850.6,184.0 851.0,183.2 851.5,182.3 852.0,181.5 853.5,180.6 854.0,179.7 854.5,178.8 855.0,177.9 855.4,177.0 856.9,176.1 857.4,175.2 857.9,174.4 858.4,173.6 858.9,172.9 860.3,172.3 860.8,171.7 861.3,171.0 861.8,170.6 862.3,170.3 863.7,170.0 864.2,169.8 864.7,169.7 865.2,169.5 865.7,169.3 867.2,169.1 867.7,168.8 868.1,168.4 869.1,168.0 870.6,167.6 871.1,167.2 871.6,166.8 872.1,166.4 872.5,166.0 874.0,165.5 874.5,165.0 875.0,164.6 875.5,164.1 876.0,163.6 877.4,163.1 877.9,162.6 878.4,162.2 878.9,161.7 879.4,161.3 880.8,160.8 881.3,160.3 882.3,159.7 882.8,159.3 884.3,158.7 884.8,158.3 885.7,157.5 886.2,156.8 887.7,156.0 888.2,155.1 888.7,154.0 889.6,153.0 891.1,152.1 891.6,151.2 892.1,150.3 892.6,149.5 893.1,148.6 895.0,147.8 895.5,147.0 896.0,146.0 896.5,145.3 897.9,144.6 898.4,144.0 898.9,143.3 899.4,142.6 899.9,142.0 901.4,141.4 901.9,140.8 902.3,140.2 902.8,139.6 903.3,139.0 904.8,138.4 905.3,137.8 905.8,137.4 906.3,137.0 906.7,136.8 908.7,136.8 909.2,136.9 909.7,137.2 910.2,137.6 911.6,138.1 912.1,138.6 912.6,139.2 913.1,140.1 913.6,141.0 915.0,142.1 915.5,143.3 916.0,144.4 916.5,145.6 917.0,146.7 918.5,147.9 919.0,149.1 919.4,150.3 919.9,151.5 920.4,152.7 921.9,153.9 922.4,155.2 922.9,156.6 923.4,158.2 923.8,159.8 925.3,161.5 925.8,163.3 926.3,165.0 926.8,166.7 927.3,168.5 928.7,170.4 929.2,172.3 929.7,174.3 930.2,176.4 930.7,178.5 932.1,180.6 932.6,182.7 933.1,184.7 933.6,186.7 934.1,188.7 935.6,190.7 936.1,192.7 936.5,195.5 937.0,197.8 939.0,200.0 939.5,202.1 940.0,204.1 940.5,205.6 940.9,206.9 942.4,208.1 942.9,209.1 943.4,210.0 943.9,210.6 944.4,211.2 945.8,211.7 946.3,212.1 946.8,212.4 947.3,212.3 947.8,212.2 949.2,211.9 949.7,211.7 950.2,211.4 950.7,210.8 951.2,210.2 952.7,209.4 953.2,208.7 953.6,208.0 954.1,207.6 954.6,207.2 956.6,206.9 957.1,206.6 957.6,206.2 958.0,205.9 959.5,205.5 960.0,205.1 960.5,204.6 961.0,204.0 961.5,203.4 962.9,202.8 963.4,202.2 963.9,201.6 964.4,200.9 964.9,200.3 966.3,199.6 966.8,198.9 967.3,197.8 968.3,196.9 969.8,195.9 970.3,194.8 970.7,193.8 971.2,192.6 971.7,191.5 973.2,190.3 973.7,189.2 974.2,187.5 974.7,186.1 976.6,184.7 977.1,183.4 977.6,182.0 978.1,180.9 978.6,179.7 980.0,178.6 980.5,177.6 981.0,176.5 981.5,175.5 982.0,174.4 983.4,173.4 983.9,172.3 984.4,171.2 984.9,169.9 985.4,168.6 986.9,167.2 987.4,165.8 987.8,164.4 988.3,162.7 988.8,160.8 990.3,158.7 990.8,156.5 991.3,154.0 991.8,151.5 992.2,149.0 993.7,146.8 994.2,144.7 994.7,142.8 995.2,141.2 995.7,139.6 997.1,138.0 997.6,136.4 998.1,134.8 998.6,133.3 999.1,131.7 1000.6,130.2 1001.0,128.6 1001.5,127.1 1002.0,125.2 1002.5,123.2 1004.5,121.2 1004.9,119.2 1005.4,116.5 1005.9,114.7 1007.4,112.8 1007.9,110.9 1008.4,109.1 1008.9,107.3 1009.3,105.5 1010.8,103.8 1011.3,102.0 1011.8,100.3 1012.3,98.6 1012.8,96.9 1014.2,95.3 1014.7,93.6 1015.2,92.1 1015.7,90.6 1016.2,89.0 1017.7,87.5 1018.1,85.9 1018.6,84.2 1019.1,82.6 1019.6,80.9 1021.1,79.2 1021.6,77.5 1022.0,75.9 1022.5,74.9 1023.0,74.0 1024.5,73.2 1025.0,72.7 1025.5,72.2 1026.0,71.6 1026.4,71.0 1027.9,70.3 1028.4,69.5 1028.9,68.7 1029.4,67.8 1029.9,66.9 1031.3,66.1 1031.8,65.4 1032.3,64.7 1032.8,64.2 1033.3,63.6 1034.8,63.1 1035.2,62.5 1035.7,62.0 1036.2,61.8 1036.7,61.7 1038.2,61.8 1038.7,62.0 1039.1,62.4 1039.6,62.8 1040.1,63.2 1041.6,63.6 1042.1,64.0 1042.6,64.6 1043.1,65.3 1043.5,66.1 1045.0,67.0 1045.5,68.0 1046.0,69.2 1047.0,70.1 1048.4,71.0 1048.9,71.9 1049.4,72.6 1049.9,73.3 1050.4,73.9 1051.9,74.6 1052.3,75.3 1052.8,76.0 1053.3,76.8 1053.8,77.8 1055.3,78.8 1055.8,79.9 1056.2,81.0 1056.7,82.0 1057.2,82.9 1058.7,83.6 1059.2,84.4 1059.7,85.1 1060.6,85.6 1062.1,86.0 1062.6,86.6 1063.1,87.3 1064.1,88.0 1065.5,88.8 1066.0,89.7 1066.5,90.7 1067.0,91.9 1067.5,93.0 1069.0,94.2 1069.4,95.4 1069.9,96.6 1070.4,97.7 1070.9,98.8 1072.9,99.8 1073.3,100.7 1073.8,101.2 1074.3,101.2 1075.8,101.0 1076.3,100.6 1076.8,100.0 1077.3,99.5 1077.7,98.9 1079.2,98.4 1079.7,97.8 1080.2,97.4" fill="none" stroke="#008000" stroke-width="2.08" stroke-linejoin="round" stroke-linecap="square" />
<polyline points="109.9,360.7 111.3,360.8 111.8,360.9 112.3,360.9 112.8,361.1 113.3,361.3 115.2,361.6 115.7,361.9 116.2,362.2 116.7,362.4 118.2,362.7 118.7,362.8 119.2,362.9 119.6,363.0 120.1,363.1 121.6,363.2 122.1,363.3 122.6,363.4 123.1,363.6 123.5,363.7 125.0,363.7 125.5,363.8 126.0,363.9 126.5,364.0 127.0,364.1 128.4,364.1 128.9,364.2 129.4,364.2 129.9,364.3 130.4,364.3 131.9,364.3 132.3,364.1 132.8,364.0 133.3,364.0 133.8,363.8 135.3,363.7 135.8,363.6 136.3,363.4 136.7,363.3 137.2,363.2 138.7,363.1 139.2,363.1 139.7,363.0 140.2,363.0 140.6,363.0 142.1,362.8 142.6,362.5 143.1,362.2 143.6,362.0 144.1,361.7 145.5,361.5 146.0,361.2 146.5,360.9 147.0,360.6 147.5,360.3 149.0,360.0 149.4,359.7 149.9,359.5 150.4,359.1 150.9,358.9 152.4,358.6 152.9,358.3 153.4,357.9 154.3,357.5 155.8,357.1 156.3,356.8 156.8,356.4 157.3,356.0 157.7,355.5 159.2,355.1 159.7,355.0 160.2,354.9 160.7,354.7 161.2,354.6 162.6,354.4 163.1,354.3 163.6,354.1 164.1,354.0 164.6,353.9 166.1,353.8 166.5,353.7 167.0,353.6 167.5,353.5 169.5,353.5 170.0,353.4 170.5,353.2 170.9,353.1 172.9,353.1 173.4,353.0 173.9,352.9 174.4,352.7 174.9,352.4 176.3,352.3 176.8,352.1 177.3,351.9 177.8,351.7 178.3,351.5 180.2,351.3 180.7,351.1 181.2,350.9 181.7,350.8 183.2,350.7 183.6,350.6 184.1,350.5 184.6,350.3 185.1,350.2 186.6,350.0 187.1,349.8 187.6,349.6 188.0,349.4 188.5,349.3 190.0,349.2 190.5,349.1 191.0,348.9 191.5,348.9 192.0,348.8 193.9,348.9 194.4,348.8 194.9,348.8 195.4,348.8 196.8,348.9 197.3,349.0 197.8,349.1 198.3,349.3 198.8,349.4 200.3,349.5 200.7,349.7 201.2,349.9 201.7,350.1 202.2,350.4 203.7,350.6 204.2,351.0 204.7,351.3 205.1,351.7 205.6,352.1 207.1,352.3 207.6,352.5 208.1,352.7 208.6,352.9 209.1,353.0 210.5,353.0 211.0,353.1 211.5,353.1 212.0,353.0 212.5,353.0 213.9,352.9 214.4,352.8 214.9,352.6 215.4,352.6 217.4,352.5 217.8,352.4 218.3,352.2 218.8,352.0 219.3,351.7 220.8,351.4 221.3,351.2 221.8,350.9 222.2,350.6 222.7,350.2 224.2,349.9 224.7,349.7 225.2,349.4 225.7,349.1 226.2,348.9 227.6,348.7 228.1,348.6 228.6,348.4 229.1,348.4 229.6,348.3 231.0,348.3 231.5,348.2 232.0,348.2 232.5,348.0 233.0,348.0 234.5,347.8 234.9,347.7 235.4,347.6 235.9,347.5 236.4,347.4 237.9,347.3 238.4,347.2 238.9,347.1 239.3,347.0 239.8,347.0 241.3,346.9 241.8,346.8 242.3,346.8 242.8,346.7 243.3,346.7 245.2,346.6 245.7,346.4 246.2,346.3 246.7,346.3 248.1,346.1 248.6,345.9 249.1,345.8 249.6,345.5 250.1,345.4 251.6,345.1 252.0,344.9 252.5,344.6 253.0,344.4 253.5,344.2 255.0,343.9 255.5,343.7 256.0,343.4 256.4,343.2 256.9,343.0 258.4,342.8 258.9,342.7 259.4,342.5 259.9,342.2 260.4,342.0 262.3,341.8 262.8,341.6 263.3,341.4 263.8,341.3 265.2,341.0 265.7,340.8 266.2,340.7 266.7,340.6 267.2,340.6 268.7,340.6 269.1,340.6 269.6,340.6 270.1,340.7 270.6,340.7 272.1,340.7 272.6,340.7 273.1,340.7 273.5,340.8 274.0,340.8 275.5,340.8 276.0,340.7 276.5,340.7 277.0,340.7 277.5,340.8 278.9,340.9 279.4,341.0 279.9,341.1 280.4,341.1 280.9,341.2 282.3,341.2 282.8,341.4 283.3,341.5 283.8,341.5 284.3,341.6 285.8,341.6 286.2,341.6 286.7,341.5 287.2,341.6 287.7,341.6 289.2,341.7 289.7,341.8 290.2,341.9 290.6,342.0 291.1,342.1 293.1,342.2 293.6,342.3 294.1,342.4 294.6,342.5 296.0,342.5 296.5,342.6 297.0,342.7 297.5,342.8 298.0,342.9 299.4,343.0 299.9,343.1 300.4,343.1 300.9,343.1 301.4,343.2 302.9,343.3 303.3,343.3 303.8,343.4 304.3,343.5 304.8,343.5 306.3,343.6 306.8,343.5 307.3,343.5 307.7,343.5 308.2,343.5 309.7,343.3 310.2,343.1 310.7,342.9 311.2,342.6 311.7,342.3 313.1,342.1 313.6,341.9 314.1,341.6 314.6,341.4 315.1,341.2 316.5,341.0 317.0,340.8 317.5,340.5 318.0,340.2 318.5,339.9 320.0,339.2 320.4,338.3 320.9,337.4 321.4,336.4 321.9,335.5 323.4,334.5 323.9,333.6 324.4,332.6 324.8,331.5 325.3,330.6 326.8,329.8 327.3,329.0 327.8,328.3 328.3,327.6 328.8,327.0 330.2,326.4 330.7,325.7 331.2,325.1 332.2,324.5 333.6,324.0 334.1,323.4 334.6,322.8 335.1,322.4 335.6,321.9 337.1,321.4 337.5,321.1 338.0,321.0 338.5,321.0 339.0,321.0 340.5,320.9 341.0,320.8 341.5,320.8 341.9,320.8 342.4,320.7 343.9,320.6 344.4,320.5 344.9,320.4 345.4,320.2 347.3,320.0 347.8,319.6 348.3,319.1 348.8,318.7 350.7,318.3 351.2,317.9 351.7,317.6 352.2,317.3 352.7,317.0 354.2,316.7 354.6,316.5 355.1,316.4 355.6,316.3 356.1,316.4 358.1,316.5 358.6,316.6 359.0,317.0 359.5,317.3 361.0,317.7 361.5,318.1 362.0,318.5 362.5,318.9 363.0,319.3 364.4,319.6 364.9,319.9 365.4,320.3 365.9,320.8 366.4,321.3 367.8,321.8 368.3,322.1 368.8,322.2 369.3,322.4 369.8,322.6 371.3,322.7 371.7,322.8 372.2,322.8 372.7,322.9 373.2,323.0 375.2,323.2 375.7,323.3 376.1,323.5 376.6,323.5 378.1,323.5 378.6,323.5 379.1,323.5 379.6,323.5 380.1,323.5 381.5,323.5 382.0,323.6 382.5,323.8 383.0,324.0 383.5,324.2 384.9,324.4 385.4,324.6 385.9,324.7 386.4,324.9 386.9,324.9 388.4,324.7 388.8,324.6 389.3,324.5 389.8,324.3 390.3,324.0 391.8,323.7 392.3,323.2 392.8,322.7 393.2,322.1 393.7,321.5 395.2,321.0 395.7,320.5 396.2,319.9 396.7,319.5 397.2,319.3 398.6,318.9 399.1,318.6 399.6,318.2 400.1,317.9 402.0,317.6 402.5,317.2 403.0,316.9 403.5,316.8 404.0,316.7 405.5,317.0 405.9,317.4 406.4,317.8 406.9,318.2 407.4,318.6 408.9,319.1 409.4,319.6 409.9,320.2 410.3,320.9 410.8,321.6 412.3,322.4 412.8,323.3 413.3,324.2 413.8,325.1 414.3,325.8 415.7,326.4 416.2,327.1 416.7,327.6 417.2,328.3 417.7,328.8 419.1,329.5 419.6,330.1 420.1,330.8 420.6,331.3 421.1,331.8 423.0,332.2 423.5,332.5 424.0,332.8 424.5,333.1 426.0,333.5 426.5,334.0 427.0,334.5 427.4,334.8 427.9,335.1 429.4,335.6 429.9,336.0 430.4,336.3 430.9,336.6 431.4,336.8 433.3,337.0 433.8,337.2 434.3,337.4 434.8,337.6 436.2,337.8 436.7,338.1 437.2,338.2 437.7,338.3 438.2,338.5 440.1,338.4 440.6,338.5 441.1,338.6 441.6,338.7 443.1,338.7 443.6,338.7 444.1,338.7 444.5,338.6 445.0,338.5 446.5,338.3 447.0,338.2 447.5,337.9 448.0,337.6 448.5,337.3 449.9,337.0 450.4,336.7 450.9,336.3 451.4,335.9 451.9,335.4 453.3,334.8 453.8,334.2 454.3,333.6 454.8,332.9 455.3,332.3 456.8,331.7 457.2,331.1 457.7,330.5 458.2,329.9 458.7,329.4 460.2,328.7 460.7,328.2 461.2,327.5 461.6,326.8 462.1,326.2 463.6,325.7 464.1,325.2 464.6,324.8 465.1,324.3 465.6,323.9 467.0,323.4 467.5,323.0 468.0,322.8 468.5,322.6 469.0,322.6 470.9,322.6 471.4,322.7 471.9,322.8 472.4,322.9 473.9,323.0 474.3,323.1 474.8,323.3 475.3,323.5 475.8,323.7 477.3,324.0 477.8,324.4 478.3,324.7 478.7,325.1 479.2,325.5 480.7,326.1 481.2,326.5 481.7,326.8 482.2,327.1 482.7,327.3 484.1,327.5 484.6,327.6 485.1,327.7 485.6,327.7 486.1,327.8 487.5,327.9 488.0,328.2 488.5,328.5 489.0,328.9 489.5,329.3 491.0,329.8 491.4,330.1 491.9,330.3 492.4,330.5 492.9,330.7 494.4,330.8 494.9,330.8 495.4,330.7 495.8,330.7 496.3,330.5 497.8,330.1 498.3,329.8 498.8,329.5 499.3,329.1 499.8,328.8 501.2,328.6 501.7,328.4 502.2,328.3 502.7,328.2 503.2,327.9 504.6,327.5 505.1,327.1 505.6,326.3 506.1,325.6 506.6,324.9 508.1,324.1 508.6,323.5 509.0,322.8 510.0,322.1 511.5,321.4 512.0,320.7 512.5,320.1 512.9,319.6 513.4,319.1 514.9,318.8 515.4,318.7 515.9,318.5 516.4,318.4 516.9,318.4 518.3,318.3 518.8,318.2 519.3,318.1 519.8,318.0 520.3,317.9 521.7,318.1 522.2,318.3 522.7,318.5 523.2,318.8 523.7,319.2 525.7,319.5 526.1,319.8 526.6,320.1 527.1,320.5 529.1,321.0 529.6,321.8 530.0,322.4 530.5,323.1 532.0,323.8 532.5,324.3 533.0,324.7 533.5,325.1 534.0,325.5 535.9,325.8 536.4,326.2 536.9,326.6 537.4,327.0 538.8,327.3 539.3,327.5 539.8,327.6 540.3,327.6 540.8,327.5 542.3,327.2 542.8,327.0 543.2,326.7 543.7,326.5 544.2,326.2 545.7,325.9 546.2,325.5 546.7,325.0 547.1,324.4 547.6,323.8 549.1,323.0 549.6,322.4 550.1,321.9 550.6,321.2 551.1,320.7 553.0,320.2 553.5,319.7 554.0,319.0 554.5,318.4 555.9,317.7 556.4,317.3 556.9,317.0 557.4,316.7 557.9,316.2 559.4,315.8 559.9,315.3 560.3,315.0 560.8,314.7 561.3,314.3 562.8,313.9 563.3,313.3 563.8,312.8 564.2,312.3 564.7,311.6 566.2,310.9 566.7,310.3 567.2,309.7 567.7,309.0 568.2,308.3 569.6,307.7 570.1,307.0 570.6,306.3 571.1,305.7 571.6,305.1 573.0,304.5 573.5,303.8 574.0,303.1 574.5,302.5 576.5,302.0 577.0,301.6 577.4,301.3 577.9,300.9 578.4,300.4 579.9,300.3 580.4,300.1 580.9,300.1 581.3,300.0 581.8,300.1 583.3,300.1 583.8,300.4 584.3,300.7 584.8,300.9 585.3,301.2 586.7,301.5 587.2,302.0 587.7,302.8 588.2,303.6 588.7,304.4 590.1,305.1 590.6,305.8 591.1,306.6 591.6,307.3 592.1,307.9 593.6,308.6 594.1,309.2 594.5,309.7 595.0,310.3 595.5,310.9 597.0,311.2 597.5,311.6 598.0,312.0 598.4,312.0 598.9,311.7 600.9,311.4 601.4,311.0 601.9,310.8 602.4,310.6 603.8,310.5 604.3,310.4 604.8,310.0 605.3,309.3 605.8,308.5 607.2,307.7 607.7,307.0 608.2,306.4 608.7,305.9 609.2,305.4 611.2,305.0 611.6,304.7 612.1,304.4 612.6,304.2 614.1,303.9 614.6,303.6 615.1,303.4 615.5,303.0 616.0,302.5 617.5,302.5 618.5,302.7 619.0,303.0 619.5,303.3 620.9,303.4 621.4,303.4 621.9,303.2 622.4,303.0 622.9,302.8 624.3,302.7 624.8,302.5 625.3,302.4 625.8,302.1 626.3,301.8 627.8,301.5 628.3,301.2 628.7,301.0 629.2,300.8 629.7,300.7 631.2,300.1 631.7,299.4 632.2,298.6 632.6,297.9 633.1,297.4 634.6,297.0 635.1,296.6 635.6,296.2 636.1,295.7 636.6,295.2 638.0,294.8 638.5,294.5 639.0,294.1 639.5,293.8 640.0,293.5 641.4,293.1 641.9,292.8 642.4,292.5 642.9,292.3 643.4,292.2 644.9,291.7 645.4,291.1 645.8,290.3 646.3,289.4 646.8,288.3 648.8,287.8 649.3,287.5 649.7,287.1 650.2,286.9 651.7,286.8 652.2,286.7 652.7,286.6 653.2,286.5 653.7,286.5 655.1,286.4 655.6,286.3 656.1,286.3 656.6,286.4 657.1,286.3 658.5,286.3 659.0,286.4 659.5,286.4 660.0,286.3 660.5,286.2 662.0,286.1 662.5,286.2 662.9,286.4 663.4,286.6 663.9,286.7 665.4,286.8 665.9,286.9 666.4,286.9 666.9,287.0 667.3,286.9 668.8,286.7 669.3,286.5 669.8,286.3 670.3,286.1 670.8,285.9 672.2,285.9 672.7,286.1 673.2,286.4 673.7,286.6 674.2,286.8 675.6,286.7 676.1,286.2 676.6,285.8 677.1,285.3 677.6,284.8 679.1,284.4 679.6,283.9 680.0,283.4 680.5,283.0 681.0,282.6 682.5,282.3 683.0,281.9 683.5,281.5 684.0,281.2 684.4,280.8 685.9,280.4 686.4,279.9 686.9,279.4 687.9,278.9 689.3,278.4 689.8,277.6 690.3,276.7 690.8,275.6 691.3,274.5 692.7,273.7 693.2,273.1 693.7,272.9 694.2,272.6 694.7,272.3 696.2,272.0 696.7,271.5 697.1,270.9 697.6,270.3 698.1,269.7 699.6,269.0 700.1,268.3 700.6,267.8 701.1,267.2 701.5,266.6 703.5,266.0 704.0,265.5 704.5,265.1 705.0,264.6 706.9,264.3 707.4,263.9 707.9,263.6 708.4,263.3 709.8,262.6 710.3,261.9 710.8,261.2 711.3,260.5 711.8,259.7 713.8,258.9 714.2,258.2 714.7,257.5 715.2,256.8 716.7,256.1 717.2,255.5 717.7,254.8 718.2,254.3 718.6,253.7 720.1,253.0 720.6,252.2 721.1,251.5 721.6,250.7 722.1,249.8 723.5,249.0 724.0,248.2 724.5,247.2 725.0,246.2 725.5,245.1 726.9,244.2 727.4,243.7 727.9,243.2 728.4,242.8 728.9,242.6 730.9,242.5 731.3,242.4 731.8,242.4 732.3,242.5 733.8,242.2 734.3,242.0 734.8,241.8 735.3,241.5 735.7,241.1 737.2,240.7 737.7,240.3 738.2,240.0 738.7,239.8 739.2,239.6 740.6,239.5 741.1,239.3 741.6,239.2 742.1,239.0 742.6,238.9 744.0,238.6 744.5,238.1 745.0,237.5 745.5,236.7 746.0,235.8 747.5,234.7 748.0,233.8 748.4,232.9 748.9,232.0 750.9,231.0 751.4,230.3 751.9,229.7 752.4,229.1 752.8,228.5 754.3,228.2 754.8,227.9 755.3,227.7 755.8,227.5 756.3,227.5 757.7,227.8 758.2,228.1 758.7,228.5 759.2,228.9 759.7,229.6 761.1,230.3 761.6,231.3 762.1,232.2 762.6,233.1 763.1,234.1 764.6,235.1 765.1,236.1 765.5,237.0 766.0,237.7 766.5,238.2 768.0,238.4 768.5,238.5 769.0,238.4 769.5,238.3 769.9,238.0 771.4,237.5 771.9,236.9 772.4,236.3 772.9,235.7 773.4,235.0 774.8,233.9 775.3,232.7 775.8,231.5 776.3,230.3 776.8,229.1 778.7,227.7 779.2,226.4 779.7,225.2 780.2,224.3 781.7,223.5 782.2,222.7 782.6,222.0 783.1,221.2 783.6,220.5 785.1,219.7 785.6,219.1 786.1,218.3 786.6,217.6 787.0,216.9 788.5,216.4 789.0,215.9 790.0,215.6 790.5,215.1 791.9,214.8 792.4,214.3 792.9,213.7 793.4,213.0 793.9,212.2 795.3,210.9 795.8,209.5 796.3,208.2 797.3,206.7 798.8,205.3 799.3,203.7 799.7,202.0 800.2,200.2 800.7,198.7 802.2,197.2 802.7,195.7 803.2,194.9 803.7,194.6 804.1,194.5 805.6,194.2 806.1,194.2 806.6,194.5 807.1,195.0 807.6,195.4 809.0,195.6 809.5,195.8 810.0,196.3 810.5,196.3 811.0,196.5 812.4,197.3 812.9,198.4 813.4,199.3 813.9,200.1 814.4,201.1 815.9,201.5 816.4,201.8 816.8,202.2 817.3,202.5 817.8,202.8 819.3,202.9 819.8,203.0 820.3,202.8 820.8,202.3 821.2,201.8 822.7,201.7 823.2,201.4 823.7,200.9 824.2,200.0 824.7,199.5 826.6,199.6 827.1,199.8 827.6,199.9 828.1,200.4 829.5,200.6 830.0,200.3 830.5,199.9 831.0,199.4 831.5,198.8 833.0,198.2 833.5,197.9 833.9,197.4 834.4,196.9 834.9,196.4 836.4,195.7 836.9,195.0 837.4,194.3 837.9,193.5 838.3,192.6 839.8,191.6 840.3,190.5 840.8,189.5 841.3,188.3 841.8,187.0 843.2,185.6 843.7,184.2 844.2,182.6 844.7,180.9 845.2,179.1 846.6,177.4 847.1,175.7 847.6,174.0 848.1,172.9 848.6,172.0 850.1,171.3 850.6,170.8 851.0,170.3 851.5,170.0 852.0,169.6 853.5,169.3 854.0,169.0 854.5,168.7 855.0,168.3 855.4,167.9 856.9,167.4 857.4,167.0 857.9,166.5 858.4,166.5 858.9,166.7 860.3,167.0 860.8,167.5 861.3,168.0 861.8,168.6 862.3,169.1 863.7,169.6 864.2,170.0 864.7,170.3 865.2,170.4 865.7,170.5 867.2,170.5 867.7,170.3 868.1,169.8 869.1,169.3 870.6,168.7 871.1,168.2 871.6,167.6 872.1,166.9 872.5,166.2 874.0,165.4 874.5,164.6 875.0,163.7 875.5,162.9 876.0,162.0 877.4,161.0 877.9,160.0 878.4,158.9 878.9,157.6 879.4,156.3 880.8,154.7 881.3,153.1 882.3,151.3 882.8,149.8 884.3,148.3 884.8,147.0 885.7,145.5 886.2,144.3 887.7,143.2 888.2,142.0 888.7,140.6 889.6,139.5 891.1,138.5 891.6,137.4 892.1,136.5 892.6,135.4 893.1,134.3 895.0,133.2 895.5,132.3 896.0,131.5 896.5,131.4 897.9,131.3 898.4,131.5 898.9,131.6 899.4,131.6 899.9,131.6 901.4,131.5 901.9,131.4 902.3,131.2 902.8,131.0 903.3,130.9 904.8,130.9 905.3,130.9 905.8,131.0 906.3,131.3 906.7,131.8 908.7,132.4 909.2,133.1 909.7,134.5 910.2,136.2 911.6,138.0 912.1,140.0 912.6,142.2 913.1,145.0 913.6,147.7 915.0,150.4 915.5,153.2 916.0,155.9 916.5,158.6 917.0,161.2 918.5,163.8 919.0,166.4 919.4,169.1 919.9,172.5 920.4,176.1 921.9,179.6 922.4,183.1 922.9,186.4 923.4,189.0 923.8,191.4 925.3,193.8 925.8,196.2 926.3,198.5 926.8,200.4 927.3,202.3 928.7,204.1 929.2,205.7 929.7,207.3 930.2,208.7 930.7,210.0 932.1,211.2 932.6,212.3 933.1,213.2 933.6,214.1 934.1,215.0 935.6,215.9 936.1,216.8 936.5,218.1 937.0,219.2 939.0,220.2 939.5,221.2 940.0,222.1 940.5,222.8 940.9,223.5 942.4,224.1 942.9,224.4 943.4,224.5 943.9,223.8 944.4,223.0 945.8,222.0 946.3,220.8 946.8,219.4 947.3,217.6 947.8,215.7 949.2,213.5 949.7,211.4 950.2,209.2 950.7,206.9 951.2,204.6 952.7,202.3 953.2,200.2 953.6,198.2 954.1,196.4 954.6,194.7 956.6,193.1 957.1,191.6 957.6,189.9 958.0,188.8 959.5,187.8 960.0,186.8 960.5,185.9 961.0,185.1 961.5,184.4 962.9,183.7 963.4,183.0 963.9,182.4 964.4,182.1 964.9,181.9 966.3,181.8 966.8,182.0 967.3,182.2 968.3,182.4 969.8,182.4 970.3,182.4 970.7,182.1 971.2,181.6 971.7,181.2 973.2,180.6 973.7,180.0 974.2,179.0 974.7,178.1 976.6,177.2 977.1,176.2 977.6,175.2 978.1,174.2 978.6,173.0 980.0,171.9 980.5,170.7 981.0,169.5 981.5,167.9 982.0,166.1 983.4,164.3 983.9,162.0 984.4,159.5 984.9,156.4 985.4,153.2 986.9,149.9 987.4,146.7 987.8,143.8 988.3,141.1 988.8,138.4 990.3,135.8 990.8,133.2 991.3,130.6 991.8,128.0 992.2,125.5 993.7,123.0 994.2,120.6 994.7,118.2 995.2,116.2 995.7,114.3 997.1,112.5 997.6,110.6 998.1,108.8 998.6,107.0 999.1,105.2 1000.6,103.3 1001.0,101.5 1001.5,99.7 1002.0,97.6 1002.5,95.6 1004.5,93.5 1004.9,91.5 1005.4,88.9 1005.9,87.2 1007.4,85.4 1007.9,83.8 1008.4,82.4 1008.9,81.4 1009.3,80.6 1010.8,79.9 1011.3,79.3 1011.8,78.6 1012.3,77.8 1012.8,76.9 1014.2,76.0 1014.7,75.1 1015.2,74.0 1015.7,73.0 1016.2,71.9 1017.7,70.8 1018.1,69.7 1018.6,68.6 1019.1,67.4 1019.6,66.2 1021.1,65.0 1021.6,63.9 1022.0,62.8 1022.5,62.2 1023.0,61.9 1024.5,61.7 1025.0,61.7 1025.5,61.8 1026.0,61.7 1026.4,61.4 1027.9,61.0 1028.4,60.5 1028.9,59.9 1029.4,59.0 1029.9,58.2 1031.3,57.4 1031.8,56.5 1032.3,55.7 1032.8,54.8 1033.3,54.0 1034.8,53.3 1035.2,52.9 1035.7,52.7 1036.2,53.4 1036.7,54.4 1038.2,55.5 1038.7,56.7 1039.1,58.1 1039.6,59.8 1040.1,61.8 1041.6,63.7 1042.1,65.7 1042.6,67.7 1043.1,69.7 1043.5,71.9 1045.0,74.0 1045.5,76.6 1046.0,79.8 1047.0,82.4 1048.4,85.0 1048.9,87.6 1049.4,89.8 1049.9,92.1 1050.4,94.3 1051.9,96.4 1052.3,98.2 1052.8,100.0 1053.3,101.2 1053.8,102.3 1055.3,103.4 1055.8,104.4 1056.2,105.5 1056.7,105.8 1057.2,105.9 1058.7,105.7 1059.2,105.1 1059.7,104.1 1060.6,103.4 1062.1,102.7 1062.6,101.9 1063.1,101.1 1064.1,100.5 1065.5,100.0 1066.0,99.5 1066.5,99.3 1067.0,99.3 1067.5,99.5 1069.0,99.7 1069.4,99.9 1069.9,100.1 1070.4,100.0 1070.9,99.8 1072.9,99.4 1073.3,98.8 1073.8,97.9 1074.3,97.0 1075.8,96.1 1076.3,95.2 1076.8,94.4 1077.3,93.6 1077.7,92.9 1079.2,92.1 1079.7,91.1 1080.2,90.6" fill="none" stroke="#ff0000" stroke-width="2.08" stroke-linejoin="round" stroke-linecap="square" />
<polyline points="234.9,355.1 235.4,355.1 235.9,355.0 236.4,354.9 237.9,354.9 238.4,354.8 238.9,354.8 239.3,354.7 239.8,354.7 241.3,354.6 241.8,354.5 242.3,354.5 242.8,354.4 243.3,354.3 245.2,354.2 245.7,354.1 246.2,354.0 246.7,353.9 248.1,353.8 248.6,353.7 249.1,353.6 249.6,353.5 250.1,353.4 251.6,353.3 252.0,353.2 252.5,353.1 253.0,353.0 253.5,352.9 255.0,352.8 255.5,352.7 256.0,352.6 256.4,352.5 256.9,352.4 258.4,352.2 258.9,352.1 259.4,352.0 259.9,351.9 260.4,351.8 262.3,351.6 262.8,351.5 263.3,351.4 263.8,351.2 265.2,351.1 265.7,351.0 266.2,350.8 266.7,350.7 267.2,350.6 268.7,350.5 269.1,350.4 269.6,350.3 270.1,350.2 270.6,350.1 272.1,350.0 272.6,349.9 273.1,349.7 273.5,349.6 274.0,349.5 275.5,349.4 276.0,349.3 276.5,349.2 277.0,349.1 277.5,349.0 278.9,348.9 279.4,348.8 279.9,348.7 280.4,348.6 280.9,348.5 282.3,348.4 282.8,348.3 283.3,348.2 283.8,348.1 284.3,348.0 285.8,347.9 286.2,347.8 286.7,347.8 287.2,347.7 287.7,347.6 289.2,347.6 289.7,347.5 290.2,347.4 290.6,347.4 291.1,347.3 293.1,347.3 293.6,347.2 294.1,347.2 294.6,347.1 296.0,347.1 296.5,347.0 297.0,347.0 297.5,346.9 298.0,346.9 299.4,346.8 299.9,346.8 300.4,346.7 300.9,346.7 301.4,346.6 302.9,346.5 303.3,346.5 303.8,346.4 304.3,346.4 304.8,346.3 306.3,346.3 306.8,346.3 307.3,346.2 307.7,346.2 308.2,346.1 309.7,346.1 310.2,346.0 310.7,345.9 311.2,345.8 311.7,345.8 313.1,345.7 313.6,345.6 314.1,345.6 314.6,345.5 315.1,345.4 316.5,345.4 317.0,345.3 317.5,345.3 318.0,345.2 318.5,345.1 320.0,345.0 320.4,344.9 320.9,344.7 321.4,344.6 321.9,344.4 323.4,344.3 323.9,344.1 324.4,344.0 324.8,343.8 325.3,343.7 326.8,343.5 327.3,343.4 327.8,343.3 328.3,343.1 328.8,343.0 330.2,342.8 330.7,342.7 331.2,342.6 332.2,342.5 333.6,342.3 334.1,342.2 334.6,342.1 335.1,342.0 335.6,341.8 337.1,341.7 337.5,341.5 338.0,341.4 338.5,341.2 339.0,341.0 340.5,340.9 341.0,340.7 341.5,340.5 341.9,340.3 342.4,340.1 343.9,339.9 344.4,339.7 344.9,339.5 345.4,339.3 347.3,339.1 347.8,338.9 348.3,338.7 348.8,338.5 350.7,338.3 351.2,338.1 351.7,337.9 352.2,337.7 352.7,337.6 354.2,337.4 354.6,337.3 355.1,337.1 355.6,337.0 356.1,336.8 358.1,336.7 358.6,336.6 359.0,336.4 359.5,336.3 361.0,336.2 361.5,336.1 362.0,336.0 362.5,335.9 363.0,335.8 364.4,335.6 364.9,335.5 365.4,335.4 365.9,335.3 366.4,335.2 367.8,335.0 368.3,334.9 368.8,334.8 369.3,334.6 369.8,334.5 371.3,334.4 371.7,334.2 372.2,334.1 372.7,333.9 373.2,333.8 375.2,333.7 375.7,333.6 376.1,333.5 376.6,333.4 378.1,333.3 378.6,333.2 379.1,333.1 379.6,333.0 380.1,332.9 381.5,332.8 382.0,332.7 382.5,332.6 383.0,332.5 383.5,332.4 384.9,332.3 385.4,332.3 385.9,332.2 386.4,332.1 386.9,331.9 388.4,331.8 388.8,331.7 389.3,331.5 389.8,331.4 390.3,331.2 391.8,331.1 392.3,331.0 392.8,330.8 393.2,330.7 393.7,330.5 395.2,330.4 395.7,330.3 396.2,330.1 396.7,330.0 397.2,329.9 398.6,329.8 399.1,329.7 399.6,329.6 400.1,329.4 402.0,329.3 402.5,329.2 403.0,329.1 403.5,329.0 404.0,329.0 405.5,328.9 405.9,328.8 406.4,328.8 406.9,328.7 407.4,328.6 408.9,328.5 409.4,328.5 409.9,328.4 410.3,328.3 410.8,328.3 412.3,328.2 412.8,328.2 413.3,328.2 413.8,328.2 414.3,328.1 415.7,328.1 416.2,328.1 416.7,328.0 417.2,328.0 417.7,327.9 419.1,327.9 419.6,327.9 420.1,327.9 420.6,327.8 421.1,327.8 423.0,327.8 423.5,327.7 424.0,327.7 424.5,327.7 426.0,327.6 426.5,327.6 427.0,327.6 427.4,327.6 427.9,327.5 429.4,327.5 429.9,327.5 430.4,327.5 430.9,327.5 431.4,327.5 433.3,327.5 433.8,327.5 434.3,327.5 434.8,327.5 436.2,327.4 436.7,327.4 437.2,327.4 437.7,327.4 438.2,327.3 440.1,327.3 440.6,327.3 441.1,327.2 441.6,327.2 443.1,327.1 443.6,327.1 444.1,327.1 444.5,327.0 445.0,327.0 446.5,326.9 447.0,326.9 447.5,326.8 448.0,326.8 448.5,326.8 449.9,326.7 450.4,326.7 450.9,326.6 451.4,326.5 451.9,326.5 453.3,326.4 453.8,326.3 454.3,326.3 454.8,326.2 455.3,326.1 456.8,326.1 457.2,326.0 457.7,325.9 458.2,325.8 458.7,325.7 460.2,325.6 460.7,325.6 461.2,325.5 461.6,325.4 462.1,325.4 463.6,325.4 464.1,325.4 464.6,325.4 465.1,325.4 465.6,325.4 467.0,325.5 467.5,325.5 468.0,325.5 468.5,325.5 469.0,325.6 470.9,325.6 471.4,325.6 471.9,325.7 472.4,325.7 473.9,325.7 474.3,325.7 474.8,325.8 475.3,325.8 475.8,325.8 477.3,325.8 477.8,325.8 478.3,325.9 478.7,325.9 479.2,325.9 480.7,326.0 481.2,326.0 481.7,326.1 482.2,326.1 482.7,326.2 484.1,326.3 484.6,326.3 485.1,326.3 485.6,326.4 486.1,326.4 487.5,326.5 488.0,326.6 488.5,326.7 489.0,326.8 489.5,326.9 491.0,327.0 491.4,327.2 491.9,327.3 492.4,327.3 492.9,327.4 494.4,327.5 494.9,327.6 495.4,327.6 495.8,327.7 496.3,327.7 497.8,327.7 498.3,327.7 498.8,327.7 499.3,327.7 499.8,327.7 501.2,327.7 501.7,327.6 502.2,327.6 502.7,327.6 503.2,327.6 504.6,327.5 505.1,327.5 505.6,327.5 506.1,327.5 506.6,327.4 508.1,327.4 508.6,327.4 509.0,327.3 510.0,327.3 511.5,327.3 512.0,327.3 512.5,327.2 512.9,327.2 513.4,327.2 514.9,327.2 515.4,327.2 515.9,327.1 516.4,327.1 516.9,327.1 518.3,327.0 518.8,327.0 519.3,327.0 519.8,326.9 520.3,326.9 521.7,326.9 522.2,326.9 522.7,326.9 523.2,326.9 523.7,326.8 525.7,326.8 526.1,326.8 526.6,326.8 527.1,326.8 529.1,326.8 529.6,326.9 530.0,327.0 530.5,327.1 532.0,327.1 532.5,327.2 533.0,327.3 533.5,327.3 534.0,327.4 535.9,327.5 536.4,327.6 536.9,327.7 537.4,327.8 538.8,327.8 539.3,327.9 539.8,327.9 540.3,327.9 540.8,328.0 542.3,328.0 542.8,328.0 543.2,328.0 543.7,328.0 544.2,328.0 545.7,327.9 546.2,327.9 546.7,327.9 547.1,327.8 547.6,327.8 549.1,327.7 549.6,327.6 550.1,327.6 550.6,327.5 551.1,327.5 553.0,327.4 553.5,327.3 554.0,327.3 554.5,327.2 555.9,327.1 556.4,327.0 556.9,326.9 557.4,326.8 557.9,326.7 559.4,326.5 559.9,326.4 560.3,326.3 560.8,326.2 561.3,326.1 562.8,325.9 563.3,325.8 563.8,325.6 564.2,325.4 564.7,325.3 566.2,325.1 566.7,324.9 567.2,324.7 567.7,324.5 568.2,324.3 569.6,324.1 570.1,323.9 570.6,323.7 571.1,323.5 571.6,323.3 573.0,323.1 573.5,322.9 574.0,322.7 574.5,322.5 576.5,322.3 577.0,322.1 577.4,321.9 577.9,321.7 578.4,321.5 579.9,321.3 580.4,321.1 580.9,321.0 581.3,320.8 581.8,320.6 583.3,320.5 583.8,320.3 584.3,320.1 584.8,320.0 585.3,319.8 586.7,319.7 587.2,319.6 587.7,319.5 588.2,319.4 588.7,319.3 590.1,319.2 590.6,319.2 591.1,319.1 591.6,319.0 592.1,318.9 593.6,318.9 594.1,318.8 594.5,318.7 595.0,318.7 595.5,318.6 597.0,318.6 597.5,318.5 598.0,318.5 598.4,318.4 598.9,318.3 600.9,318.1 601.4,318.0 601.9,317.9 602.4,317.8 603.8,317.7 604.3,317.6 604.8,317.6 605.3,317.4 605.8,317.3 607.2,317.2 607.7,317.1 608.2,317.0 608.7,316.9 609.2,316.8 611.2,316.7 611.6,316.6 612.1,316.5 612.6,316.4 614.1,316.3 614.6,316.2 615.1,316.2 615.5,316.0 616.0,315.9 617.5,315.8 618.5,315.7 619.0,315.6 619.5,315.4 620.9,315.3 621.4,315.1 621.9,315.0 622.4,314.8 622.9,314.7 624.3,314.5 624.8,314.3 625.3,314.1 625.8,313.9 626.3,313.8 627.8,313.6 628.3,313.5 628.7,313.4 629.2,313.2 629.7,313.1 631.2,312.9 631.7,312.7 632.2,312.5 632.6,312.2 633.1,312.0 634.6,311.8 635.1,311.6 635.6,311.4 636.1,311.2 636.6,311.0 638.0,310.8 638.5,310.6 639.0,310.4 639.5,310.2 640.0,310.1 641.4,309.9 641.9,309.7 642.4,309.5 642.9,309.4 643.4,309.2 644.9,309.0 645.4,308.8 645.8,308.6 646.3,308.4 646.8,308.2 648.8,308.0 649.3,307.8 649.7,307.7 650.2,307.5 651.7,307.3 652.2,307.2 652.7,307.1 653.2,306.9 653.7,306.8 655.1,306.7 655.6,306.6 656.1,306.4 656.6,306.3 657.1,306.2 658.5,306.0 659.0,305.9 659.5,305.7 660.0,305.5 660.5,305.4 662.0,305.2 662.5,305.0 662.9,304.9 663.4,304.7 663.9,304.5 665.4,304.3 665.9,304.1 666.4,303.9 666.9,303.6 667.3,303.4 668.8,303.2 669.3,303.0 669.8,302.8 670.3,302.6 670.8,302.3 672.2,302.1 672.7,301.9 673.2,301.8 673.7,301.6 674.2,301.4 675.6,301.2 676.1,300.9 676.6,300.7 677.1,300.4 677.6,300.1 679.1,299.9 679.6,299.6 680.0,299.4 680.5,299.1 681.0,298.9 682.5,298.6 683.0,298.4 683.5,298.2 684.0,297.9 684.4,297.7 685.9,297.5 686.4,297.3 686.9,297.0 687.9,296.8 689.3,296.6 689.8,296.4 690.3,296.1 690.8,295.9 691.3,295.7 692.7,295.5 693.2,295.3 693.7,295.0 694.2,294.8 694.7,294.6 696.2,294.3 696.7,294.1 697.1,293.8 697.6,293.5 698.1,293.3 699.6,293.0 700.1,292.7 700.6,292.5 701.1,292.2 701.5,291.9 703.5,291.7 704.0,291.4 704.5,291.2 705.0,291.0 706.9,290.8 707.4,290.6 707.9,290.4 708.4,290.3 709.8,290.0 710.3,289.8 710.8,289.6 711.3,289.4 711.8,289.1 713.8,288.9 714.2,288.6 714.7,288.4 715.2,288.1 716.7,287.9 717.2,287.6 717.7,287.3 718.2,287.0 718.6,286.7 720.1,286.4 720.6,286.1 721.1,285.8 721.6,285.5 722.1,285.2 723.5,284.8 724.0,284.5 724.5,284.2 725.0,283.9 725.5,283.5 726.9,283.2 727.4,282.9 727.9,282.6 728.4,282.3 728.9,281.9 730.9,281.6 731.3,281.2 731.8,280.9 732.3,280.6 733.8,280.2 734.3,279.8 734.8,279.4 735.3,279.0 735.7,278.6 737.2,278.2 737.7,277.7 738.2,277.3 738.7,276.9 739.2,276.5 740.6,276.2 741.1,275.8 741.6,275.4 742.1,275.1 742.6,274.8 744.0,274.5 744.5,274.1 745.0,273.7 745.5,273.3 746.0,272.9 747.5,272.5 748.0,272.1 748.4,271.8 748.9,271.4 750.9,271.1 751.4,270.7 751.9,270.3 752.4,269.9 752.8,269.4 754.3,269.0 754.8,268.6 755.3,268.2 755.8,267.8 756.3,267.4 757.7,267.1 758.2,266.8 758.7,266.5 759.2,266.2 759.7,266.0 761.1,265.9 761.6,265.7 762.1,265.5 762.6,265.3 763.1,265.0 764.6,265.0 765.1,264.8 765.5,264.6 766.0,264.4 766.5,264.2 768.0,263.9 768.5,263.5 769.0,263.1 769.5,262.7 769.9,262.3 771.4,261.8 771.9,261.3 772.4,260.9 772.9,260.5 773.4,260.2 774.8,259.8 775.3,259.4 775.8,259.0 776.3,258.6 776.8,258.2 778.7,257.8 779.2,257.5 779.7,257.1 780.2,256.8 781.7,256.4 782.2,256.0 782.6,255.7 783.1,255.4 783.6,255.1 785.1,254.7 785.6,254.2 786.1,253.8 786.6,253.4 787.0,253.0 788.5,252.5 789.0,252.1 790.0,251.6 790.5,251.2 791.9,250.7 792.4,250.3 792.9,249.9 793.4,249.5 793.9,249.0 795.3,248.5 795.8,248.0 796.3,247.4 797.3,246.9 798.8,246.4 799.3,245.9 799.7,245.3 800.2,244.8 800.7,244.3 802.2,243.8 802.7,243.3 803.2,242.9 803.7,242.5 804.1,242.1 805.6,241.6 806.1,241.2 806.6,240.8 807.1,240.5 807.6,240.1 809.0,239.7 809.5,239.3 810.0,239.0 810.5,238.6 811.0,238.2 812.4,237.9 812.9,237.5 813.4,237.1 813.9,236.7 814.4,236.3 815.9,235.8 816.4,235.3 816.8,234.8 817.3,234.3 817.8,233.8 819.3,233.4 819.8,233.0 820.3,232.6 820.8,232.1 821.2,231.7 822.7,231.3 823.2,230.9 823.7,230.5 824.2,230.1 824.7,229.7 826.6,229.4 827.1,229.1 827.6,228.8 828.1,228.6 829.5,228.2 830.0,227.9 830.5,227.5 831.0,227.2 831.5,226.8 833.0,226.3 833.5,225.9 833.9,225.5 834.4,225.1 834.9,224.6 836.4,224.1 836.9,223.6 837.4,223.2 837.9,222.7 838.3,222.3 839.8,221.8 840.3,221.4 840.8,220.9 841.3,220.5 841.8,220.1 843.2,219.6 843.7,219.2 844.2,218.7 844.7,218.2 845.2,217.7 846.6,217.2 847.1,216.7 847.6,216.3 848.1,215.8 848.6,215.3 850.1,214.8 850.6,214.3 851.0,213.9 851.5,213.5 852.0,213.1 853.5,212.7 854.0,212.3 854.5,211.9 855.0,211.5 855.4,211.1 856.9,210.7 857.4,210.3 857.9,209.9 858.4,209.4 858.9,209.0 860.3,208.6 860.8,208.3 861.3,208.0 861.8,207.7 862.3,207.4 863.7,207.2 864.2,207.0 864.7,206.6 865.2,206.3 865.7,206.0 867.2,205.7 867.7,205.3 868.1,205.0 869.1,204.6 870.6,204.3 871.1,203.9 871.6,203.4 872.1,203.0 872.5,202.5 874.0,202.1 874.5,201.7 875.0,201.3 875.5,200.9 876.0,200.4 877.4,200.0 877.9,199.6 878.4,199.2 878.9,198.8 879.4,198.3 880.8,197.9 881.3,197.4 882.3,197.0 882.8,196.5 884.3,196.2 884.8,195.7 885.7,195.3 886.2,194.8 887.7,194.3 888.2,193.8 888.7,193.3 889.6,192.9 891.1,192.4 891.6,191.9 892.1,191.4 892.6,190.9 893.1,190.4 895.0,189.8 895.5,189.2 896.0,188.6 896.5,187.9 897.9,187.6 898.4,187.2 898.9,186.8 899.4,186.3 899.9,185.8 901.4,185.2 901.9,184.7 902.3,184.1 902.8,183.4 903.3,182.8 904.8,182.1 905.3,181.5 905.8,181.0 906.3,180.5 906.7,180.0 908.7,179.4 909.2,178.9 909.7,178.5 910.2,178.1 911.6,177.8 912.1,177.6 912.6,177.3 913.1,177.1 913.6,177.0 915.0,176.9 915.5,176.8 916.0,176.7 916.5,176.7 917.0,176.7 918.5,176.7 919.0,176.7 919.4,176.6 919.9,176.6 920.4,176.5 921.9,176.4 922.4,176.3 922.9,176.2 923.4,176.1 923.8,176.0 925.3,175.8 925.8,175.7 926.3,175.6 926.8,175.5 927.3,175.5 928.7,175.5 929.2,175.6 929.7,175.7 930.2,175.9 930.7,176.1 932.1,176.3 932.6,176.4 933.1,176.5 933.6,176.6 934.1,176.8 935.6,176.9 936.1,177.0 936.5,177.2 937.0,177.4 939.0,177.7 939.5,177.9 940.0,178.1 940.5,178.4 940.9,178.5 942.4,178.7 942.9,178.8 943.4,178.9 943.9,178.9 944.4,178.9 945.8,178.8 946.3,178.7 946.8,178.7 947.3,178.7 947.8,178.6 949.2,178.4 949.7,178.3 950.2,178.1 950.7,177.9 951.2,177.7 952.7,177.5 953.2,177.4 953.6,177.3 954.1,177.1 954.6,177.0 956.6,176.9 957.1,176.8 957.6,176.7 958.0,176.7 959.5,176.7 960.0,176.6 960.5,176.5 961.0,176.4 961.5,176.3 962.9,176.2 963.4,176.1 963.9,176.0 964.4,176.0 964.9,175.9 966.3,175.8 966.8,175.7 967.3,175.7 968.3,175.6 969.8,175.5 970.3,175.3 970.7,175.0 971.2,174.8 971.7,174.5 973.2,174.3 973.7,174.1 974.2,173.9 974.7,173.8 976.6,173.7 977.1,173.5 977.6,173.4 978.1,173.2 978.6,173.0 980.0,172.9 980.5,172.7 981.0,172.5 981.5,172.3 982.0,172.2 983.4,172.0 983.9,171.8 984.4,171.6 984.9,171.5 985.4,171.3 986.9,171.0 987.4,170.8 987.8,170.6 988.3,170.4 988.8,170.2 990.3,170.0 990.8,169.9 991.3,169.4 991.8,169.0 992.2,168.7 993.7,168.3 994.2,167.9 994.7,167.5 995.2,167.1 995.7,166.7 997.1,166.4 997.6,166.0 998.1,165.6 998.6,165.3 999.1,164.9 1000.6,164.7 1001.0,164.4 1001.5,164.1 1002.0,163.8 1002.5,163.5 1004.5,163.1 1004.9,162.6 1005.4,162.1 1005.9,161.6 1007.4,161.0 1007.9,160.4 1008.4,159.8 1008.9,159.2 1009.3,158.7 1010.8,158.2 1011.3,157.7 1011.8,157.1 1012.3,156.6 1012.8,156.1 1014.2,155.6 1014.7,155.1 1015.2,154.7 1015.7,154.3 1016.2,153.9 1017.7,153.4 1018.1,152.9 1018.6,152.4 1019.1,152.0 1019.6,151.5 1021.1,151.1 1021.6,150.6 1022.0,150.1 1022.5,149.5 1023.0,149.0 1024.5,148.6 1025.0,148.3 1025.5,148.0 1026.0,147.7 1026.4,147.4 1027.9,147.0 1028.4,146.6 1028.9,146.2 1029.4,145.8 1029.9,145.4 1031.3,144.9 1031.8,144.4 1032.3,143.8 1032.8,143.3 1033.3,142.8 1034.8,142.4 1035.2,142.0 1035.7,141.8 1036.2,141.7 1036.7,141.7 1038.2,141.6 1038.7,141.3 1039.1,141.0 1039.6,140.8 1040.1,140.6 1041.6,140.5 1042.1,140.3 1042.6,140.2 1043.1,140.2 1043.5,140.2 1045.0,140.2 1045.5,140.1 1046.0,139.9 1047.0,139.8 1048.4,139.6 1048.9,139.4 1049.4,139.2 1049.9,139.0 1050.4,138.7 1051.9,138.4 1052.3,138.0 1052.8,137.6 1053.3,137.2 1053.8,136.8 1055.3,136.4 1055.8,136.0 1056.2,135.6 1056.7,135.2 1057.2,134.6 1058.7,134.1 1059.2,133.5 1059.7,133.0 1060.6,132.5 1062.1,131.9 1062.6,131.4 1063.1,130.9 1064.1,130.4 1065.5,129.9 1066.0,129.3 1066.5,128.8 1067.0,128.5 1067.5,128.0 1069.0,127.6 1069.4,127.1 1069.9,126.6 1070.4,126.0 1070.9,125.5 1072.9,124.9 1073.3,124.3 1073.8,123.5 1074.3,122.8 1075.8,122.0 1076.3,121.2 1076.8,120.4 1077.3,119.5 1077.7,118.7 1079.2,118.0 1079.7,117.3 1080.2,116.6" fill="none" stroke="#800080" stroke-width="2.08" stroke-linejoin="round" stroke-linecap="square" />
<line x1="45.5" x2="1130.5" y1="20.50" y2="20.50" stroke="#008000" stroke-opacity="0.7" stroke-width="1.39" stroke-dasharray="8.889 2.222 1.389 2.222"/>
<line x1="45.5" x2="1130.5" y1="258.50" y2="258.50" stroke="#ff0000" stroke-opacity="0.7" stroke-width="1.39" stroke-dasharray="8.889 2.222 1.389 2.222"/>
<line x1="1080.50" x2="1080.50" y1="383.5" y2="10.5" stroke="#ff0000" stroke-opacity="0.7" stroke-width="1.39" stroke-dasharray="5.139 2.222"/>
</g>
<rect x="45.5" y="10.5" width="1085.0" height="373.0" fill="none" stroke="#000" stroke-width="1.11"/>
<line x1="171.50" x2="171.50" y1="383.5" y2="388.4" stroke="#000" stroke-width="1.11"/>
<line x1="350.50" x2="350.50" y1="383.5" y2="388.4" stroke="#000" stroke-width="1.11"/>
<line x1="528.50" x2="528.50" y1="383.5" y2="388.4" stroke="#000" stroke-width="1.11"/>
<line x1="706.50" x2="706.50" y1="383.5" y2="388.4" stroke="#000" stroke-width="1.11"/>
<line x1="885.50" x2="885.50" y1="383.5" y2="388.4" stroke="#000" stroke-width="1.11"/>
<line x1="1063.50" x2="1063.50" y1="383.5" y2="388.4" stroke="#000" stroke-width="1.11"/>
<line x1="40.6" x2="45.5" y1="348.50" y2="348.50" stroke="#000" stroke-width="1.11"/>
<text id="yt20" x="18.88" y="353" font-size="13.7" textLength="14.96" lengthAdjust="spacingAndGlyphs">20</text>
<line x1="40.6" x2="45.5" y1="303.50" y2="303.50" stroke="#000" stroke-width="1.11"/>
<text id="yt40" x="18.82" y="308" font-size="13.7" textLength="15.93" lengthAdjust="spacingAndGlyphs">40</text>
<line x1="40.6" x2="45.5" y1="258.50" y2="258.50" stroke="#000" stroke-width="1.11"/>
<text id="yt60" x="18.77" y="262" font-size="13.7" textLength="15.85" lengthAdjust="spacingAndGlyphs">60</text>
<line x1="40.6" x2="45.5" y1="213.50" y2="213.50" stroke="#000" stroke-width="1.11"/>
<text id="yt80" x="18.17" y="217" font-size="13.7" textLength="15.77" lengthAdjust="spacingAndGlyphs">80</text>
<line x1="40.6" x2="45.5" y1="167.50" y2="167.50" stroke="#000" stroke-width="1.11"/>
<text id="yt100" x="9.78" y="172" font-size="13.7" textLength="24.91" lengthAdjust="spacingAndGlyphs">100</text>
<line x1="40.6" x2="45.5" y1="122.50" y2="122.50" stroke="#000" stroke-width="1.11"/>
<text id="yt120" x="9.78" y="127" font-size="13.7" textLength="24.91" lengthAdjust="spacingAndGlyphs">120</text>
<line x1="40.6" x2="45.5" y1="77.50" y2="77.50" stroke="#000" stroke-width="1.11"/>
<text id="yt140" x="9.78" y="81" font-size="13.7" textLength="24.91" lengthAdjust="spacingAndGlyphs">140</text>
<line x1="40.6" x2="45.5" y1="31.50" y2="31.50" stroke="#000" stroke-width="1.11"/>
<text id="yt160" x="9.78" y="36" font-size="13.7" textLength="24.91" lengthAdjust="spacingAndGlyphs">160</text>
</g>
<g id="legend">
<rect x="52.7" y="17.5" width="107.6" height="118.6" rx="2.8" fill="#fff" fill-opacity="0.8" stroke="#ccc" stroke-opacity="0.8" stroke-width="1.1"/>
<line x1="56.2" x2="85.8" y1="26.9" y2="26.9" stroke="#000" stroke-width="2.08"/>
<line x1="56.2" x2="85.8" y1="46.9" y2="46.9" stroke="#008000" stroke-width="2.08"/>
<line x1="56.2" x2="85.8" y1="68.0" y2="68.0" stroke="#ff0000" stroke-width="2.08"/>
<line x1="56.2" x2="85.8" y1="86.9" y2="86.9" stroke="#800080" stroke-width="2.08"/>
<polygon points="71.4,97.0 60.7,118.1 82.2,118.1" fill="#008000"/>
<polygon points="71.4,136.1 60.7,115.0 82.2,115.0" fill="#ff0000"/>
<text id="lg0" x="96.64" y="31.7" font-size="13.7" textLength="33.23" lengthAdjust="spacingAndGlyphs">Close</text>
<text id="lg1" x="96.64" y="51.8" font-size="13.7" textLength="56.97" lengthAdjust="spacingAndGlyphs">MA50[买]</text>
<text id="lg2" x="96.64" y="72.7" font-size="13.7" textLength="56.97" lengthAdjust="spacingAndGlyphs">MA25[卖]</text>
<text id="lg3" x="96.67" y="91.5" font-size="13.7" textLength="42.57" lengthAdjust="spacingAndGlyphs">MA200</text>
<text id="lg4" x="96.39" y="109.7" font-size="13.7" textLength="20.44" lengthAdjust="spacingAndGlyphs">Buy</text>
<text id="lg5" x="96.31" y="128.6" font-size="13.7" textLength="23.22" lengthAdjust="spacingAndGlyphs">Sell</text>
</g>
<g id="note" fill="#ff0000">
<rect x="934.6" y="279.3" width="177.9" height="89.8" rx="4.6" fill="#fff" fill-opacity="0.9" stroke="#ff0000" stroke-width="1.3"/>
<text><tspan id="an0a" x="955.47" y="295" font-size="15.8" textLength="49.78" lengthAdjust="spacingAndGlyphs" text-rendering="geometricPrecision">137.11</tspan> <tspan id="an0b" x="1009.82" y="295" font-size="15.8" textLength="43.44" lengthAdjust="spacingAndGlyphs" text-rendering="geometricPrecision">(-2.30</tspan> <tspan id="an0c" x="1055.62" y="295" font-size="15.8" textLength="52.86" lengthAdjust="spacingAndGlyphs" text-rendering="geometricPrecision">-1.65%)</tspan></text>
<text><tspan id="an1a" x="1007.98" y="311" font-size="15.8" textLength="38.39" lengthAdjust="spacingAndGlyphs" text-rendering="geometricPrecision">59.75</tspan><tspan id="an1b" x="1046.06" y="311" font-size="15.8" textLength="12.35" lengthAdjust="spacingAndGlyphs" text-rendering="geometricPrecision">~</tspan><tspan id="an1c" x="1056.89" y="311" font-size="15.8" textLength="51.99" lengthAdjust="spacingAndGlyphs" text-rendering="geometricPrecision">164.94</tspan></text>
<text><tspan id="an2a" x="941.38" y="327" font-size="15.8" textLength="50.17" lengthAdjust="spacingAndGlyphs" text-rendering="geometricPrecision">134.29</tspan><tspan id="an2b" x="991.41" y="329.9" font-size="20.5" textLength="8.60" lengthAdjust="spacing" rotate="8" text-rendering="geometricPrecision">/</tspan><tspan id="an2c" x="998.63" y="327" font-size="15.8" textLength="50.24" lengthAdjust="spacingAndGlyphs" text-rendering="geometricPrecision">131.20</tspan><tspan id="an2d" x="1049.48" y="329.9" font-size="20.5" textLength="8.90" lengthAdjust="spacing" rotate="8" text-rendering="geometricPrecision">/</tspan><tspan id="an2e" x="1056.55" y="327" font-size="15.8" textLength="51.84" lengthAdjust="spacingAndGlyphs" text-rendering="geometricPrecision">122.83</tspan></text>
<text><tspan id="an3a" x="978.87" y="344" font-size="15.8" textLength="82.98" lengthAdjust="spacingAndGlyphs" text-rendering="geometricPrecision">2026-02-04</tspan> <tspan id="an3b" x="1065.64" y="344" font-size="15.8" textLength="42.67" lengthAdjust="spacingAndGlyphs" text-rendering="geometricPrecision">05:00</tspan></text>
<text><tspan id="an4a" x="938.24" y="362" font-size="15.8" textLength="37.38" lengthAdjust="spacingAndGlyphs" text-rendering="geometricPrecision">-1.78</tspan><tspan id="an4b" x="975.87" y="364.9" font-size="20.5" textLength="9.00" lengthAdjust="spacing" rotate="8" text-rendering="geometricPrecision">/</tspan><tspan id="an4c" x="983.68" y="362.2" font-size="15.28" textLength="30.64" lengthAdjust="spacingAndGlyphs">偏空</tspan><tspan id="an4d" x="1014.47" y="364.9" font-size="20.5" textLength="8.80" lengthAdjust="spacing" rotate="8" text-rendering="geometricPrecision">/</tspan><tspan id="an4e" x="1020.98" y="362" font-size="15.8" textLength="42.54" lengthAdjust="spacingAndGlyphs" text-rendering="geometricPrecision">+0.60</tspan><tspan id="an4f" x="1063.12" y="364.9" font-size="20.5" textLength="9.00" lengthAdjust="spacing" rotate="8" text-rendering="geometricPrecision">/</tspan><tspan id="an4g" x="1070.13" y="362" font-size="15.8" textLength="38.27" lengthAdjust="spacingAndGlyphs" text-rendering="geometricPrecision">-0.98</tspan></text>
</g>
<g id="vol">
<line x1="171.50" x2="171.50" y1="396.5" y2="520.5" stroke="#b0b0b0" stroke-width="1.11"/>
<line x1="350.50" x2="350.50" y1="396.5" y2="520.5" stroke="#b0b0b0" stroke-width="1.11"/>
<line x1="528.50" x2="528.50" y1="396.5" y2="520.5" stroke="#b0b0b0" stroke-width="1.11"/>
<line x1="706.50" x2="706.50" y1="396.5" y2="520.5" stroke="#b0b0b0" stroke-width="1.11"/>
<line x1="885.50" x2="885.50" y1="396.5" y2="520.5" stroke="#b0b0b0" stroke-width="1.11"/>
<line x1="1063.50" x2="1063.50" y1="396.5" y2="520.5" stroke="#b0b0b0" stroke-width="1.11"/>
<line x1="45.5" x2="1130.5" y1="478.50" y2="478.50" stroke="#b0b0b0" stroke-width="1.11"/>
<line x1="45.5" x2="1130.5" y1="435.50" y2="435.50" stroke="#b0b0b0" stroke-width="1.11"/>
<g fill="#bfbfbf" shape-rendering="crispEdges">
<rect x="97" y="497" width="1" height="23.5"/><rect x="98" y="449" width="1" height="71.5"/><rect x="99" y="486" width="1" height="34.5"/><rect x="101" y="482" width="1" height="38.5"/><rect x="102" y="489" width="1" height="31.5"/><rect x="104" y="514" width="1" height="6.5"/>
<rect x="105" y="513" width="1" height="7.5"/><rect x="106" y="516" width="1" height="4.5"/><rect x="108" y="513" width="1" height="7.5"/><rect x="109" y="511" width="1" height="9.5"/><rect x="111" y="513" width="1" height="7.5"/><rect x="112" y="515" width="1" height="5.5"/>
<rect x="118" y="508" width="1" height="12.5"/><rect x="119" y="504" width="1" height="16.5"/><rect x="121" y="488" width="1" height="32.5"/><rect x="122" y="511" width="1" height="9.5"/><rect x="123" y="513" width="1" height="7.5"/><rect x="125" y="504" width="1" height="16.5"/>
<rect x="126" y="493" width="1" height="27.5"/><rect x="128" y="508" width="1" height="12.5"/><rect x="129" y="506" width="1" height="14.5"/><rect x="130" y="497" width="1" height="23.5"/><rect x="132" y="502" width="1" height="18.5"/><rect x="133" y="505" width="1" height="15.5"/>
<rect x="139" y="485" width="1" height="35.5"/><rect x="140" y="465" width="1" height="55.5"/><rect x="142" y="401" width="1" height="119.5"/><rect x="143" y="463" width="1" height="57.5"/><rect x="145" y="484" width="1" height="36.5"/><rect x="146" y="505" width="1" height="15.5"/>
<rect x="147" y="504" width="1" height="16.5"/><rect x="149" y="503" width="1" height="17.5"/><rect x="150" y="504" width="1" height="16.5"/><rect x="152" y="499" width="1" height="21.5"/><rect x="153" y="510" width="1" height="10.5"/><rect x="154" y="499" width="1" height="21.5"/>
<rect x="160" y="499" width="1" height="21.5"/><rect x="162" y="511" width="1" height="9.5"/><rect x="163" y="515" width="1" height="5.5"/><rect x="164" y="502" width="1" height="18.5"/><rect x="166" y="504" width="1" height="16.5"/><rect x="167" y="499" width="1" height="21.5"/>
<rect x="169" y="499" width="1" height="21.5"/><rect x="170" y="503" width="1" height="17.5"/><rect x="173" y="499" width="1" height="21.5"/><rect x="174" y="513" width="1" height="7.5"/><rect x="176" y="507" width="1" height="13.5"/><rect x="181" y="510" width="1" height="10.5"/>
<rect x="183" y="499" width="1" height="21.5"/><rect x="184" y="505" width="1" height="15.5"/><rect x="186" y="518" width="1" height="2.5"/><rect x="187" y="499" width="1" height="21.5"/><rect x="188" y="513" width="1" height="7.5"/><rect x="190" y="503" width="1" height="17.5"/>
<rect x="191" y="511" width="1" height="9.5"/><rect x="194" y="507" width="1" height="13.5"/><rect x="195" y="474" width="1" height="46.5"/><rect x="197" y="472" width="1" height="48.5"/><rect x="203" y="513" width="1" height="7.5"/><rect x="204" y="499" width="1" height="21.5"/>
<rect x="205" y="506" width="1" height="14.5"/><rect x="207" y="509" width="1" height="11.5"/><rect x="208" y="504" width="1" height="16.5"/><rect x="210" y="511" width="1" height="9.5"/><rect x="211" y="499" width="1" height="21.5"/><rect x="212" y="507" width="1" height="13.5"/>
<rect x="214" y="506" width="1" height="14.5"/><rect x="215" y="510" width="1" height="10.5"/><rect x="217" y="515" width="1" height="5.5"/><rect x="218" y="515" width="1" height="5.5"/><rect x="219" y="510" width="1" height="10.5"/><rect x="224" y="510" width="1" height="10.5"/>
<rect x="225" y="503" width="1" height="17.5"/><rect x="227" y="509" width="1" height="11.5"/><rect x="228" y="515" width="1" height="5.5"/><rect x="229" y="509" width="1" height="11.5"/><rect x="231" y="507" width="1" height="13.5"/><rect x="232" y="505" width="1" height="15.5"/>
<rect x="234" y="510" width="1" height="10.5"/><rect x="235" y="515" width="1" height="5.5"/><rect x="236" y="504" width="1" height="16.5"/><rect x="238" y="514" width="1" height="6.5"/><rect x="239" y="508" width="1" height="12.5"/><rect x="245" y="516" width="1" height="4.5"/>
<rect x="246" y="507" width="1" height="13.5"/><rect x="248" y="514" width="1" height="6.5"/><rect x="249" y="505" width="1" height="15.5"/><rect x="251" y="501" width="1" height="19.5"/><rect x="252" y="504" width="1" height="16.5"/><rect x="253" y="515" width="1" height="5.5"/>
<rect x="255" y="515" width="1" height="5.5"/><rect x="256" y="514" width="1" height="6.5"/><rect x="258" y="508" width="1" height="12.5"/><rect x="259" y="510" width="1" height="10.5"/><rect x="260" y="511" width="1" height="9.5"/><rect x="262" y="510" width="1" height="10.5"/>
<rect x="268" y="508" width="1" height="12.5"/><rect x="269" y="508" width="1" height="12.5"/><rect x="270" y="501" width="1" height="19.5"/><rect x="272" y="512" width="1" height="8.5"/><rect x="273" y="510" width="1" height="10.5"/><rect x="275" y="501" width="1" height="19.5"/>
<rect x="276" y="516" width="1" height="4.5"/><rect x="277" y="514" width="1" height="6.5"/><rect x="279" y="515" width="1" height="5.5"/><rect x="280" y="510" width="1" height="10.5"/><rect x="282" y="505" width="1" height="15.5"/><rect x="283" y="513" width="1" height="7.5"/>
<rect x="289" y="513" width="1" height="7.5"/><rect x="290" y="513" width="1" height="7.5"/><rect x="293" y="511" width="1" height="9.5"/><rect x="294" y="513" width="1" height="7.5"/><rect x="296" y="509" width="1" height="11.5"/><rect x="297" y="510" width="1" height="10.5"/>
<rect x="299" y="510" width="1" height="10.5"/><rect x="300" y="507" width="1" height="13.5"/><rect x="301" y="511" width="1" height="9.5"/><rect x="303" y="511" width="1" height="9.5"/><rect x="304" y="501" width="1" height="19.5"/><rect x="310" y="512" width="1" height="8.5"/>
<rect x="311" y="507" width="1" height="13.5"/><rect x="313" y="511" width="1" height="9.5"/><rect x="314" y="513" width="1" height="7.5"/><rect x="316" y="513" width="1" height="7.5"/><rect x="317" y="514" width="1" height="6.5"/><rect x="318" y="511" width="1" height="9.5"/>
<rect x="320" y="446" width="1" height="74.5"/><rect x="321" y="513" width="1" height="7.5"/><rect x="323" y="504" width="1" height="16.5"/><rect x="324" y="512" width="1" height="8.5"/><rect x="325" y="505" width="1" height="15.5"/><rect x="333" y="510" width="1" height="10.5"/>
<rect x="334" y="507" width="1" height="13.5"/><rect x="335" y="514" width="1" height="6.5"/><rect x="337" y="511" width="1" height="9.5"/><rect x="338" y="501" width="1" height="19.5"/><rect x="340" y="507" width="1" height="13.5"/><rect x="341" y="506" width="1" height="14.5"/>
<rect x="342" y="510" width="1" height="10.5"/><rect x="344" y="507" width="1" height="13.5"/><rect x="345" y="515" width="1" height="5.5"/><rect x="347" y="514" width="1" height="6.5"/><rect x="352" y="509" width="1" height="11.5"/><rect x="354" y="507" width="1" height="13.5"/>
<rect x="355" y="513" width="1" height="7.5"/><rect x="358" y="512" width="1" height="8.5"/><rect x="359" y="513" width="1" height="7.5"/><rect x="361" y="512" width="1" height="8.5"/><rect x="362" y="515" width="1" height="5.5"/><rect x="364" y="516" width="1" height="4.5"/>
<rect x="365" y="512" width="1" height="8.5"/><rect x="366" y="517" width="1" height="3.5"/><rect x="368" y="515" width="1" height="5.5"/><rect x="375" y="514" width="1" height="6.5"/><rect x="376" y="515" width="1" height="5.5"/><rect x="378" y="510" width="1" height="10.5"/>
<rect x="379" y="513" width="1" height="7.5"/><rect x="381" y="512" width="1" height="8.5"/><rect x="382" y="515" width="1" height="5.5"/><rect x="383" y="514" width="1" height="6.5"/><rect x="385" y="509" width="1" height="11.5"/><rect x="386" y="510" width="1" height="10.5"/>
<rect x="388" y="513" width="1" height="7.5"/><rect x="389" y="510" width="1" height="10.5"/><rect x="390" y="511" width="1" height="9.5"/><rect x="395" y="511" width="1" height="9.5"/><rect x="396" y="501" width="1" height="19.5"/><rect x="398" y="513" width="1" height="7.5"/>
<rect x="399" y="509" width="1" height="11.5"/><rect x="402" y="509" width="1" height="11.5"/><rect x="403" y="512" width="1" height="8.5"/><rect x="405" y="515" width="1" height="5.5"/><rect x="406" y="508" width="1" height="12.5"/><rect x="407" y="510" width="1" height="10.5"/>
<rect x="409" y="511" width="1" height="9.5"/><rect x="410" y="511" width="1" height="9.5"/><rect x="417" y="511" width="1" height="9.5"/><rect x="419" y="515" width="1" height="5.5"/><rect x="420" y="510" width="1" height="10.5"/><rect x="423" y="517" width="1" height="3.5"/>
<rect x="424" y="512" width="1" height="8.5"/><rect x="426" y="516" width="1" height="4.5"/><rect x="427" y="513" width="1" height="7.5"/><rect x="429" y="508" width="1" height="12.5"/><rect x="430" y="513" width="1" height="7.5"/><rect x="431" y="513" width="1" height="7.5"/>
<rect x="433" y="509" width="1" height="11.5"/><rect x="440" y="513" width="1" height="7.5"/><rect x="441" y="513" width="1" height="7.5"/><rect x="443" y="513" width="1" height="7.5"/><rect x="444" y="502" width="1" height="18.5"/><rect x="446" y="508" width="1" height="12.5"/>
<rect x="447" y="509" width="1" height="11.5"/><rect x="448" y="515" width="1" height="5.5"/><rect x="450" y="508" width="1" height="12.5"/><rect x="451" y="516" width="1" height="4.5"/><rect x="453" y="509" width="1" height="11.5"/><rect x="454" y="515" width="1" height="5.5"/>
<rect x="460" y="501" width="1" height="19.5"/><rect x="461" y="516" width="1" height="4.5"/><rect x="463" y="504" width="1" height="16.5"/><rect x="464" y="507" width="1" height="13.5"/><rect x="465" y="517" width="1" height="3.5"/><rect x="467" y="513" width="1" height="7.5"/>
<rect x="468" y="502" width="1" height="18.5"/><rect x="471" y="505" width="1" height="15.5"/><rect x="472" y="516" width="1" height="4.5"/><rect x="474" y="514" width="1" height="6.5"/><rect x="475" y="515" width="1" height="5.5"/><rect x="481" y="515" width="1" height="5.5"/>
<rect x="482" y="514" width="1" height="6.5"/><rect x="484" y="501" width="1" height="19.5"/><rect x="485" y="511" width="1" height="9.5"/><rect x="487" y="513" width="1" height="7.5"/><rect x="488" y="513" width="1" height="7.5"/><rect x="489" y="508" width="1" height="12.5"/>
<rect x="491" y="508" width="1" height="12.5"/><rect x="492" y="515" width="1" height="5.5"/><rect x="494" y="502" width="1" height="18.5"/><rect x="495" y="497" width="1" height="23.5"/><rect x="496" y="513" width="1" height="7.5"/><rect x="502" y="509" width="1" height="11.5"/>
<rect x="504" y="501" width="1" height="19.5"/><rect x="505" y="513" width="1" height="7.5"/><rect x="506" y="510" width="1" height="10.5"/><rect x="508" y="504" width="1" height="16.5"/><rect x="511" y="508" width="1" height="12.5"/><rect x="512" y="505" width="1" height="15.5"/>
<rect x="513" y="506" width="1" height="14.5"/><rect x="515" y="510" width="1" height="10.5"/><rect x="516" y="508" width="1" height="12.5"/><rect x="518" y="507" width="1" height="13.5"/><rect x="525" y="512" width="1" height="8.5"/><rect x="526" y="501" width="1" height="19.5"/>
<rect x="529" y="498" width="1" height="22.5"/><rect x="530" y="515" width="1" height="5.5"/><rect x="532" y="503" width="1" height="17.5"/><rect x="533" y="510" width="1" height="10.5"/><rect x="536" y="514" width="1" height="6.5"/><rect x="537" y="510" width="1" height="10.5"/>
<rect x="539" y="505" width="1" height="15.5"/><rect x="540" y="514" width="1" height="6.5"/><rect x="545" y="508" width="1" height="12.5"/><rect x="546" y="512" width="1" height="8.5"/><rect x="547" y="512" width="1" height="8.5"/><rect x="549" y="485" width="1" height="35.5"/>
<rect x="550" y="505" width="1" height="15.5"/><rect x="553" y="515" width="1" height="5.5"/><rect x="554" y="513" width="1" height="7.5"/><rect x="556" y="508" width="1" height="12.5"/><rect x="557" y="516" width="1" height="4.5"/><rect x="559" y="516" width="1" height="4.5"/>
<rect x="560" y="509" width="1" height="11.5"/><rect x="561" y="512" width="1" height="8.5"/><rect x="566" y="512" width="1" height="8.5"/><rect x="567" y="511" width="1" height="9.5"/><rect x="569" y="515" width="1" height="5.5"/><rect x="570" y="501" width="1" height="19.5"/>
<rect x="571" y="515" width="1" height="5.5"/><rect x="573" y="513" width="1" height="7.5"/><rect x="574" y="516" width="1" height="4.5"/><rect x="576" y="513" width="1" height="7.5"/><rect x="577" y="502" width="1" height="18.5"/><rect x="578" y="512" width="1" height="8.5"/>
<rect x="580" y="509" width="1" height="11.5"/><rect x="581" y="513" width="1" height="7.5"/><rect x="588" y="501" width="1" height="19.5"/><rect x="590" y="511" width="1" height="9.5"/><rect x="591" y="516" width="1" height="4.5"/><rect x="593" y="508" width="1" height="12.5"/>
<rect x="594" y="513" width="1" height="7.5"/><rect x="595" y="509" width="1" height="11.5"/><rect x="597" y="511" width="1" height="9.5"/><rect x="598" y="489" width="1" height="31.5"/><rect x="601" y="511" width="1" height="9.5"/><rect x="602" y="515" width="1" height="5.5"/>
<rect x="604" y="516" width="1" height="4.5"/><rect x="611" y="506" width="1" height="14.5"/><rect x="612" y="512" width="1" height="8.5"/><rect x="614" y="510" width="1" height="10.5"/><rect x="615" y="513" width="1" height="7.5"/><rect x="617" y="517" width="1" height="3.5"/>
<rect x="618" y="516" width="1" height="4.5"/><rect x="619" y="503" width="1" height="17.5"/><rect x="621" y="514" width="1" height="6.5"/><rect x="622" y="513" width="1" height="7.5"/><rect x="624" y="516" width="1" height="4.5"/><rect x="625" y="514" width="1" height="6.5"/>
<rect x="631" y="486" width="1" height="34.5"/><rect x="632" y="513" width="1" height="7.5"/><rect x="634" y="512" width="1" height="8.5"/><rect x="635" y="514" width="1" height="6.5"/><rect x="636" y="514" width="1" height="6.5"/><rect x="638" y="512" width="1" height="8.5"/>
<rect x="639" y="510" width="1" height="10.5"/><rect x="641" y="512" width="1" height="8.5"/><rect x="642" y="501" width="1" height="19.5"/><rect x="643" y="511" width="1" height="9.5"/><rect x="645" y="511" width="1" height="9.5"/><rect x="646" y="514" width="1" height="6.5"/>
<rect x="652" y="506" width="1" height="14.5"/><rect x="653" y="515" width="1" height="5.5"/><rect x="655" y="516" width="1" height="4.5"/><rect x="656" y="515" width="1" height="5.5"/><rect x="658" y="509" width="1" height="11.5"/><rect x="659" y="515" width="1" height="5.5"/>
<rect x="660" y="504" width="1" height="16.5"/><rect x="662" y="512" width="1" height="8.5"/><rect x="663" y="516" width="1" height="4.5"/><rect x="665" y="513" width="1" height="7.5"/><rect x="666" y="501" width="1" height="19.5"/><rect x="667" y="515" width="1" height="5.5"/>
<rect x="673" y="516" width="1" height="4.5"/><rect x="675" y="509" width="1" height="11.5"/><rect x="676" y="504" width="1" height="16.5"/><rect x="677" y="506" width="1" height="14.5"/><rect x="679" y="513" width="1" height="7.5"/><rect x="680" y="511" width="1" height="9.5"/>
<rect x="682" y="510" width="1" height="10.5"/><rect x="683" y="505" width="1" height="15.5"/><rect x="684" y="501" width="1" height="19.5"/><rect x="686" y="512" width="1" height="8.5"/><rect x="689" y="504" width="1" height="16.5"/><rect x="696" y="513" width="1" height="7.5"/>
<rect x="697" y="509" width="1" height="11.5"/><rect x="699" y="515" width="1" height="5.5"/><rect x="700" y="515" width="1" height="5.5"/><rect x="701" y="511" width="1" height="9.5"/><rect x="703" y="515" width="1" height="5.5"/><rect x="704" y="508" width="1" height="12.5"/>
<rect x="707" y="514" width="1" height="6.5"/><rect x="708" y="512" width="1" height="8.5"/><rect x="710" y="513" width="1" height="7.5"/><rect x="711" y="514" width="1" height="6.5"/><rect x="716" y="512" width="1" height="8.5"/><rect x="717" y="507" width="1" height="13.5"/>
<rect x="718" y="501" width="1" height="19.5"/><rect x="720" y="516" width="1" height="4.5"/><rect x="721" y="511" width="1" height="9.5"/><rect x="723" y="513" width="1" height="7.5"/><rect x="724" y="515" width="1" height="5.5"/><rect x="725" y="511" width="1" height="9.5"/>
<rect x="727" y="498" width="1" height="22.5"/><rect x="728" y="513" width="1" height="7.5"/><rect x="731" y="506" width="1" height="14.5"/><rect x="732" y="517" width="1" height="3.5"/><rect x="737" y="511" width="1" height="9.5"/><rect x="738" y="511" width="1" height="9.5"/>
<rect x="740" y="515" width="1" height="5.5"/><rect x="741" y="510" width="1" height="10.5"/><rect x="742" y="511" width="1" height="9.5"/><rect x="744" y="514" width="1" height="6.5"/><rect x="745" y="506" width="1" height="14.5"/><rect x="747" y="516" width="1" height="4.5"/>
<rect x="748" y="510" width="1" height="10.5"/><rect x="751" y="513" width="1" height="7.5"/><rect x="752" y="516" width="1" height="4.5"/><rect x="754" y="513" width="1" height="7.5"/><rect x="759" y="514" width="1" height="6.5"/><rect x="761" y="509" width="1" height="11.5"/>
<rect x="762" y="517" width="1" height="3.5"/><rect x="764" y="513" width="1" height="7.5"/><rect x="765" y="514" width="1" height="6.5"/><rect x="766" y="503" width="1" height="17.5"/><rect x="768" y="516" width="1" height="4.5"/><rect x="769" y="507" width="1" height="13.5"/>
<rect x="771" y="517" width="1" height="3.5"/><rect x="772" y="511" width="1" height="9.5"/><rect x="773" y="513" width="1" height="7.5"/><rect x="775" y="511" width="1" height="9.5"/><rect x="781" y="515" width="1" height="5.5"/><rect x="782" y="517" width="1" height="3.5"/>
<rect x="783" y="517" width="1" height="3.5"/><rect x="785" y="505" width="1" height="15.5"/><rect x="786" y="512" width="1" height="8.5"/><rect x="788" y="515" width="1" height="5.5"/><rect x="790" y="508" width="1" height="12.5"/><rect x="792" y="515" width="1" height="5.5"/>
<rect x="793" y="515" width="1" height="5.5"/><rect x="795" y="516" width="1" height="4.5"/><rect x="796" y="506" width="1" height="14.5"/><rect x="802" y="501" width="1" height="19.5"/><rect x="803" y="515" width="1" height="5.5"/><rect x="805" y="511" width="1" height="9.5"/>
<rect x="806" y="508" width="1" height="12.5"/><rect x="807" y="501" width="1" height="19.5"/><rect x="809" y="518" width="1" height="2.5"/><rect x="810" y="502" width="1" height="18.5"/><rect x="812" y="510" width="1" height="10.5"/><rect x="813" y="517" width="1" height="3.5"/>
<rect x="814" y="511" width="1" height="9.5"/><rect x="816" y="512" width="1" height="8.5"/><rect x="817" y="509" width="1" height="11.5"/><rect x="823" y="514" width="1" height="6.5"/><rect x="824" y="511" width="1" height="9.5"/><rect x="826" y="515" width="1" height="5.5"/>
<rect x="827" y="510" width="1" height="10.5"/><rect x="829" y="512" width="1" height="8.5"/><rect x="830" y="514" width="1" height="6.5"/><rect x="831" y="516" width="1" height="4.5"/><rect x="833" y="503" width="1" height="17.5"/><rect x="834" y="507" width="1" height="13.5"/>
<rect x="836" y="508" width="1" height="12.5"/><rect x="837" y="515" width="1" height="5.5"/><rect x="838" y="514" width="1" height="6.5"/><rect x="844" y="503" width="1" height="17.5"/><rect x="846" y="509" width="1" height="11.5"/><rect x="847" y="515" width="1" height="5.5"/>
<rect x="848" y="512" width="1" height="8.5"/><rect x="850" y="512" width="1" height="8.5"/><rect x="851" y="513" width="1" height="7.5"/><rect x="853" y="515" width="1" height="5.5"/><rect x="854" y="506" width="1" height="14.5"/><rect x="855" y="510" width="1" height="10.5"/>
<rect x="857" y="513" width="1" height="7.5"/><rect x="858" y="517" width="1" height="3.5"/><rect x="860" y="502" width="1" height="18.5"/><rect x="867" y="513" width="1" height="7.5"/><rect x="870" y="508" width="1" height="12.5"/><rect x="871" y="514" width="1" height="6.5"/>
<rect x="872" y="507" width="1" height="13.5"/><rect x="874" y="512" width="1" height="8.5"/><rect x="875" y="515" width="1" height="5.5"/><rect x="877" y="518" width="1" height="2.5"/><rect x="878" y="516" width="1" height="4.5"/><rect x="879" y="517" width="1" height="3.5"/>
<rect x="881" y="513" width="1" height="7.5"/><rect x="882" y="511" width="1" height="9.5"/><rect x="887" y="505" width="1" height="15.5"/><rect x="888" y="513" width="1" height="7.5"/><rect x="889" y="516" width="1" height="4.5"/><rect x="891" y="501" width="1" height="19.5"/>
<rect x="892" y="511" width="1" height="9.5"/><rect x="895" y="513" width="1" height="7.5"/><rect x="896" y="513" width="1" height="7.5"/><rect x="898" y="498" width="1" height="22.5"/><rect x="899" y="510" width="1" height="10.5"/><rect x="901" y="511" width="1" height="9.5"/>
<rect x="902" y="503" width="1" height="17.5"/><rect x="903" y="507" width="1" height="13.5"/><rect x="909" y="508" width="1" height="12.5"/><rect x="911" y="506" width="1" height="14.5"/><rect x="912" y="513" width="1" height="7.5"/><rect x="913" y="514" width="1" height="6.5"/>
<rect x="915" y="513" width="1" height="7.5"/><rect x="916" y="516" width="1" height="4.5"/><rect x="918" y="513" width="1" height="7.5"/><rect x="919" y="514" width="1" height="6.5"/><rect x="920" y="509" width="1" height="11.5"/><rect x="922" y="512" width="1" height="8.5"/>
<rect x="923" y="517" width="1" height="3.5"/><rect x="925" y="512" width="1" height="8.5"/><rect x="930" y="504" width="1" height="16.5"/><rect x="932" y="517" width="1" height="3.5"/><rect x="933" y="515" width="1" height="5.5"/><rect x="935" y="512" width="1" height="8.5"/>
<rect x="936" y="516" width="1" height="4.5"/><rect x="939" y="514" width="1" height="6.5"/><rect x="940" y="512" width="1" height="8.5"/><rect x="942" y="516" width="1" height="4.5"/><rect x="943" y="511" width="1" height="9.5"/><rect x="944" y="511" width="1" height="9.5"/>
<rect x="946" y="516" width="1" height="4.5"/><rect x="952" y="512" width="1" height="8.5"/><rect x="953" y="507" width="1" height="13.5"/><rect x="954" y="513" width="1" height="7.5"/><rect x="956" y="510" width="1" height="10.5"/><rect x="957" y="509" width="1" height="11.5"/>
<rect x="959" y="513" width="1" height="7.5"/><rect x="960" y="507" width="1" height="13.5"/><rect x="961" y="511" width="1" height="9.5"/><rect x="963" y="515" width="1" height="5.5"/><rect x="964" y="510" width="1" height="10.5"/><rect x="966" y="508" width="1" height="12.5"/>
<rect x="967" y="508" width="1" height="12.5"/><rect x="973" y="515" width="1" height="5.5"/><rect x="974" y="510" width="1" height="10.5"/><rect x="976" y="505" width="1" height="15.5"/><rect x="977" y="511" width="1" height="9.5"/><rect x="978" y="506" width="1" height="14.5"/>
<rect x="980" y="505" width="1" height="15.5"/><rect x="981" y="512" width="1" height="8.5"/><rect x="983" y="509" width="1" height="11.5"/><rect x="984" y="513" width="1" height="7.5"/><rect x="985" y="507" width="1" height="13.5"/><rect x="987" y="513" width="1" height="7.5"/>
<rect x="988" y="514" width="1" height="6.5"/><rect x="994" y="512" width="1" height="8.5"/><rect x="995" y="513" width="1" height="7.5"/><rect x="997" y="511" width="1" height="9.5"/><rect x="998" y="510" width="1" height="10.5"/><rect x="1000" y="516" width="1" height="4.5"/>
<rect x="1001" y="514" width="1" height="6.5"/><rect x="1002" y="511" width="1" height="9.5"/><rect x="1004" y="510" width="1" height="10.5"/><rect x="1005" y="512" width="1" height="8.5"/><rect x="1007" y="501" width="1" height="19.5"/><rect x="1008" y="506" width="1" height="14.5"/>
<rect x="1009" y="513" width="1" height="7.5"/><rect x="1017" y="509" width="1" height="11.5"/><rect x="1018" y="505" width="1" height="15.5"/><rect x="1019" y="511" width="1" height="9.5"/><rect x="1021" y="517" width="1" height="3.5"/><rect x="1022" y="512" width="1" height="8.5"/>
<rect x="1024" y="512" width="1" height="8.5"/><rect x="1025" y="501" width="1" height="19.5"/><rect x="1026" y="517" width="1" height="3.5"/><rect x="1028" y="503" width="1" height="17.5"/><rect x="1029" y="513" width="1" height="7.5"/><rect x="1031" y="507" width="1" height="13.5"/>
<rect x="1032" y="513" width="1" height="7.5"/><rect x="1038" y="511" width="1" height="9.5"/><rect x="1039" y="506" width="1" height="14.5"/><rect x="1041" y="512" width="1" height="8.5"/><rect x="1042" y="507" width="1" height="13.5"/><rect x="1043" y="512" width="1" height="8.5"/>
<rect x="1045" y="514" width="1" height="6.5"/><rect x="1048" y="513" width="1" height="7.5"/><rect x="1049" y="514" width="1" height="6.5"/><rect x="1050" y="513" width="1" height="7.5"/><rect x="1052" y="504" width="1" height="16.5"/><rect x="1053" y="516" width="1" height="4.5"/>
<rect x="1058" y="517" width="1" height="3.5"/><rect x="1059" y="512" width="1" height="8.5"/><rect x="1060" y="501" width="1" height="19.5"/><rect x="1062" y="507" width="1" height="13.5"/><rect x="1065" y="505" width="1" height="15.5"/><rect x="1066" y="505" width="1" height="15.5"/>
<rect x="1067" y="515" width="1" height="5.5"/><rect x="1069" y="512" width="1" height="8.5"/><rect x="1070" y="518" width="1" height="2.5"/><rect x="1073" y="514" width="1" height="6.5"/><rect x="1074" y="509" width="1" height="11.5"/>
</g>
<rect x="45.5" y="396.5" width="1085.0" height="124.0" fill="none" stroke="#000" stroke-width="1.11"/>
<line x1="171.50" x2="171.50" y1="520.5" y2="525.4" stroke="#000" stroke-width="1.11"/>
<text id="xt2021" x="144.71" y="538.8" font-size="13.7" textLength="53.95" lengthAdjust="spacingAndGlyphs">2021-01</text>
<line x1="350.50" x2="350.50" y1="520.5" y2="525.4" stroke="#000" stroke-width="1.11"/>
<text id="xt2022" x="323.71" y="538.8" font-size="13.7" textLength="53.95" lengthAdjust="spacingAndGlyphs">2022-01</text>
<line x1="528.50" x2="528.50" y1="520.5" y2="525.4" stroke="#000" stroke-width="1.11"/>
<text id="xt2023" x="501.71" y="538.8" font-size="13.7" textLength="53.95" lengthAdjust="spacingAndGlyphs">2023-01</text>
<line x1="706.50" x2="706.50" y1="520.5" y2="525.4" stroke="#000" stroke-width="1.11"/>
<text id="xt2024" x="679.71" y="538.8" font-size="13.7" textLength="53.95" lengthAdjust="spacingAndGlyphs">2024-01</text>
<line x1="885.50" x2="885.50" y1="520.5" y2="525.4" stroke="#000" stroke-width="1.11"/>
<text id="xt2025" x="858.71" y="538.8" font-size="13.7" textLength="53.95" lengthAdjust="spacingAndGlyphs">2025-01</text>
<line x1="1063.50" x2="1063.50" y1="520.5" y2="525.4" stroke="#000" stroke-width="1.11"/>
<text id="xt2026" x="1036.71" y="538.8" font-size="13.7" textLength="53.95" lengthAdjust="spacingAndGlyphs">2026-01</text>
<line x1="40.6" x2="45.5" y1="520.50" y2="520.50" stroke="#000" stroke-width="1.11"/>
<text id="vt0" x="26.37" y="524" font-size="13.7" textLength="9.80" lengthAdjust="spacingAndGlyphs">0</text>
<line x1="40.6" x2="45.5" y1="478.50" y2="478.50" stroke="#000" stroke-width="1.11"/>
<text id="vt2" x="26.70" y="483" font-size="13.7" textLength="8.78" lengthAdjust="spacingAndGlyphs">2</text>
<line x1="40.6" x2="45.5" y1="435.50" y2="435.50" stroke="#000" stroke-width="1.11"/>
<text id="vt4" x="26.63" y="440" font-size="13.7" textLength="9.26" lengthAdjust="spacingAndGlyphs">4</text>
<text id="off" x="44.17" y="391" font-size="13.7" textLength="24.41" lengthAdjust="spacingAndGlyphs">1e6</text>
<text transform="translate(17.7 459.4) rotate(-90)" font-size="13.7" text-anchor="middle" textLength="44.6" lengthAdjust="spacingAndGlyphs">Volume</text>
</g>
<g id="txt" fill="#000">
<text><tspan id="t1a" x="45.58" y="575" font-size="16.67" textLength="35.83" lengthAdjust="spacingAndGlyphs">ANET</tspan> <tspan id="t1b" x="87.74" y="575.4" font-size="16.67" textLength="66.02" lengthAdjust="spacingAndGlyphs">交易次数</tspan><tspan x="154.60" y="575" font-size="16.67">:</tspan> <tspan id="t1d" x="163.98" y="575" font-size="16.67" textLength="20.49" lengthAdjust="spacingAndGlyphs">10</tspan></text>
<text><tspan id="t2a" x="44.80" y="595.6" font-size="16.67" textLength="99.71" lengthAdjust="spacingAndGlyphs">策略总收益率</tspan><tspan x="145.40" y="595" font-size="16.67">:</tspan> <tspan id="t2d" x="154.71" y="595" font-size="16.67" textLength="66.53" lengthAdjust="spacingAndGlyphs">965.78%</tspan></text>
<text><tspan id="t3a" x="44.98" y="614.6" font-size="16.67" textLength="99.66" lengthAdjust="spacingAndGlyphs">长期持有收益</tspan><tspan x="145.40" y="614" font-size="16.67">:</tspan> <tspan id="t3d" x="154.71" y="614" font-size="16.67" textLength="66.53" lengthAdjust="spacingAndGlyphs">964.52%</tspan></text>
<text><tspan id="t4a" x="44.10" y="634.6" font-size="16.67" textLength="65.27" lengthAdjust="spacingAndGlyphs">交易记录</tspan><tspan x="110.60" y="634" font-size="16.67">:</tspan></text>
<text><tspan id="h0" x="54.93" y="651" font-size="16.67" textLength="64.83" lengthAdjust="spacingAndGlyphs">Buy Date</tspan>  <tspan id="h1" x="130.54" y="651" font-size="16.67" textLength="66.65" lengthAdjust="spacingAndGlyphs">Buy Price</tspan>  <tspan id="h2" x="207.45" y="651" font-size="16.67" textLength="66.35" lengthAdjust="spacingAndGlyphs">Sell Date</tspan>  <tspan id="h3" x="283.90" y="651" font-size="16.67" textLength="68.42" lengthAdjust="spacingAndGlyphs">Sell Price</tspan>  <tspan id="h4" x="360.86" y="651" font-size="16.67" textLength="95.52" lengthAdjust="spacingAndGlyphs">Holding Days</tspan>  <tspan id="h5" x="466.39" y="651" font-size="16.67" textLength="54.79" lengthAdjust="spacingAndGlyphs">Profit %</tspan></text>
<text><tspan id="r0c0" x="44.80" y="668" font-size="16.67" textLength="90.13" lengthAdjust="spacingAndGlyphs">2020-10-05</tspan> <tspan id="r0c1" x="164.01" y="668" font-size="16.67" textLength="45.87" lengthAdjust="spacingAndGlyphs">12.88</tspan> <tspan id="r0c2" x="214.02" y="668" font-size="16.67" textLength="90.53" lengthAdjust="spacingAndGlyphs">2021-02-17</tspan> <tspan id="r0c3" x="338.64" y="668" font-size="16.67" textLength="45.82" lengthAdjust="spacingAndGlyphs">19.54</tspan> <tspan id="r0c4" x="438.33" y="668" font-size="16.67" textLength="30.85" lengthAdjust="spacingAndGlyphs">135</tspan> <tspan id="r0c5" x="493.48" y="668" font-size="16.67" textLength="45.27" lengthAdjust="spacingAndGlyphs">51.71</tspan></text>
<text><tspan id="r1c0" x="44.80" y="686" font-size="16.67" textLength="90.20" lengthAdjust="spacingAndGlyphs">2021-02-22</tspan> <tspan id="r1c1" x="164.01" y="686" font-size="16.67" textLength="45.89" lengthAdjust="spacingAndGlyphs">18.25</tspan> <tspan id="r1c2" x="214.02" y="686" font-size="16.67" textLength="90.48" lengthAdjust="spacingAndGlyphs">2021-07-16</tspan> <tspan id="r1c3" x="338.85" y="686" font-size="16.67" textLength="46.25" lengthAdjust="spacingAndGlyphs">22.71</tspan> <tspan id="r1c4" x="437.57" y="686" font-size="16.67" textLength="31.67" lengthAdjust="spacingAndGlyphs">143</tspan> <tspan id="r1c5" x="493.57" y="686" font-size="16.67" textLength="44.74" lengthAdjust="spacingAndGlyphs">24.44</tspan></text>
<text><tspan id="r2c0" x="44.80" y="703" font-size="16.67" textLength="90.20" lengthAdjust="spacingAndGlyphs">2021-08-12</tspan> <tspan id="r2c1" x="164.49" y="703" font-size="16.67" textLength="45.43" lengthAdjust="spacingAndGlyphs">22.93</tspan> <tspan id="r2c2" x="214.02" y="703" font-size="16.67" textLength="90.48" lengthAdjust="spacingAndGlyphs">2021-12-01</tspan> <tspan id="r2c3" x="338.86" y="703" font-size="16.67" textLength="46.17" lengthAdjust="spacingAndGlyphs">30.33</tspan> <tspan id="r2c4" x="437.80" y="703" font-size="16.67" textLength="31.62" lengthAdjust="spacingAndGlyphs">111</tspan> <tspan id="r2c5" x="493.58" y="703" font-size="16.67" textLength="45.14" lengthAdjust="spacingAndGlyphs">32.27</tspan></text>
<text><tspan id="r3c0" x="44.80" y="721" font-size="16.67" textLength="90.20" lengthAdjust="spacingAndGlyphs">2022-01-07</tspan> <tspan id="r3c1" x="164.51" y="721" font-size="16.67" textLength="45.34" lengthAdjust="spacingAndGlyphs">32.38</tspan> <tspan id="r3c2" x="213.98" y="721" font-size="16.67" textLength="90.59" lengthAdjust="spacingAndGlyphs">2023-04-11</tspan> <tspan id="r3c3" x="338.86" y="721" font-size="16.67" textLength="46.24" lengthAdjust="spacingAndGlyphs">39.91</tspan> <tspan id="r3c4" x="438.55" y="721" font-size="16.67" textLength="30.68" lengthAdjust="spacingAndGlyphs">458</tspan> <tspan id="r3c5" x="493.57" y="721" font-size="16.67" textLength="45.10" lengthAdjust="spacingAndGlyphs">23.26</tspan></text>
<text><tspan id="r4c0" x="44.80" y="738" font-size="16.67" textLength="90.20" lengthAdjust="spacingAndGlyphs">2023-05-02</tspan> <tspan id="r4c1" x="164.51" y="738" font-size="16.67" textLength="45.40" lengthAdjust="spacingAndGlyphs">33.73</tspan> <tspan id="r4c2" x="214.02" y="738" font-size="16.67" textLength="90.38" lengthAdjust="spacingAndGlyphs">2023-09-15</tspan> <tspan id="r4c3" x="338.98" y="738" font-size="16.67" textLength="45.44" lengthAdjust="spacingAndGlyphs">46.19</tspan> <tspan id="r4c4" x="437.57" y="738" font-size="16.67" textLength="31.71" lengthAdjust="spacingAndGlyphs">136</tspan> <tspan id="r4c5" x="493.61" y="738" font-size="16.67" textLength="44.75" lengthAdjust="spacingAndGlyphs">36.94</tspan></text>
<text><tspan id="r5c0" x="44.80" y="755" font-size="16.67" textLength="90.20" lengthAdjust="spacingAndGlyphs">2023-09-21</tspan> <tspan id="r5c1" x="164.96" y="755" font-size="16.67" textLength="44.81" lengthAdjust="spacingAndGlyphs">44.44</tspan> <tspan id="r5c2" x="214.02" y="755" font-size="16.67" textLength="90.48" lengthAdjust="spacingAndGlyphs">2023-12-06</tspan> <tspan id="r5c3" x="338.63" y="755" font-size="16.67" textLength="46.09" lengthAdjust="spacingAndGlyphs">53.35</tspan> <tspan id="r5c4" x="444.08" y="755" font-size="16.67" textLength="19.83" lengthAdjust="spacingAndGlyphs">76</tspan> <tspan id="r5c5" x="488.85" y="755" font-size="16.67" textLength="45.09" lengthAdjust="spacingAndGlyphs">20.05</tspan></text>
<text><tspan id="r6c0" x="44.80" y="773" font-size="16.67" textLength="90.20" lengthAdjust="spacingAndGlyphs">2024-04-12</tspan> <tspan id="r6c1" x="164.45" y="773" font-size="16.67" textLength="45.38" lengthAdjust="spacingAndGlyphs">67.78</tspan> <tspan id="r6c2" x="214.02" y="773" font-size="16.67" textLength="90.53" lengthAdjust="spacingAndGlyphs">2024-07-17</tspan> <tspan id="r6c3" x="338.89" y="773" font-size="16.67" textLength="46.11" lengthAdjust="spacingAndGlyphs">84.08</tspan> <tspan id="r6c4" x="444.10" y="773" font-size="16.67" textLength="19.82" lengthAdjust="spacingAndGlyphs">96</tspan> <tspan id="r6c5" x="488.85" y="773" font-size="16.67" textLength="45.09" lengthAdjust="spacingAndGlyphs">24.05</tspan></text>
<text><tspan id="r7c0" x="44.80" y="790" font-size="16.67" textLength="90.03" lengthAdjust="spacingAndGlyphs">2024-07-24</tspan> <tspan id="r7c1" x="164.61" y="790" font-size="16.67" textLength="45.29" lengthAdjust="spacingAndGlyphs">81.43</tspan> <tspan id="r7c2" x="214.02" y="790" font-size="16.67" textLength="90.41" lengthAdjust="spacingAndGlyphs">2024-10-23</tspan> <tspan id="r7c3" x="338.85" y="790" font-size="16.67" textLength="46.26" lengthAdjust="spacingAndGlyphs">98.51</tspan> <tspan id="r7c4" x="444.10" y="790" font-size="16.67" textLength="19.81" lengthAdjust="spacingAndGlyphs">91</tspan> <tspan id="r7c5" x="488.85" y="790" font-size="16.67" textLength="45.05" lengthAdjust="spacingAndGlyphs">20.98</tspan></text>
<text><tspan id="r8c0" x="44.90" y="808" font-size="16.67" textLength="89.94" lengthAdjust="spacingAndGlyphs">2024-11-14</tspan> <tspan id="r8c1" x="164.43" y="808" font-size="16.67" textLength="45.60" lengthAdjust="spacingAndGlyphs">96.49</tspan> <tspan id="r8c2" x="214.02" y="808" font-size="16.67" textLength="89.70" lengthAdjust="spacingAndGlyphs">2025-10-14</tspan> <tspan id="r8c3" x="333.90" y="808" font-size="16.67" textLength="55.97" lengthAdjust="spacingAndGlyphs">138.76</tspan> <tspan id="r8c4" x="444.10" y="808" font-size="16.67" textLength="30.43" lengthAdjust="spacingAndGlyphs">333</tspan> <tspan id="r8c5" x="499.32" y="808" font-size="16.67" textLength="44.65" lengthAdjust="spacingAndGlyphs">43.80</tspan></text>
<text><tspan id="r9c0" x="44.89" y="825" font-size="16.67" textLength="90.02" lengthAdjust="spacingAndGlyphs">2025-11-05</tspan> <tspan id="r9c1" x="158.42" y="825" font-size="16.67" textLength="56.34" lengthAdjust="spacingAndGlyphs">140.48</tspan> <tspan id="r9c2" x="219.72" y="825" font-size="16.67" textLength="90.06" lengthAdjust="spacingAndGlyphs">2026-02-04</tspan> <tspan id="r9c3" x="338.29" y="825" font-size="16.67" textLength="56.30" lengthAdjust="spacingAndGlyphs">137.11</tspan> <tspan id="r9c4" x="453.45" y="825" font-size="16.67" textLength="20.54" lengthAdjust="spacingAndGlyphs">91</tspan> <tspan id="r9c5" x="497.85" y="825" font-size="16.67" textLength="41.10" lengthAdjust="spacingAndGlyphs">-2.40</tspan></text>
</g>
</svg>
</body></html>
